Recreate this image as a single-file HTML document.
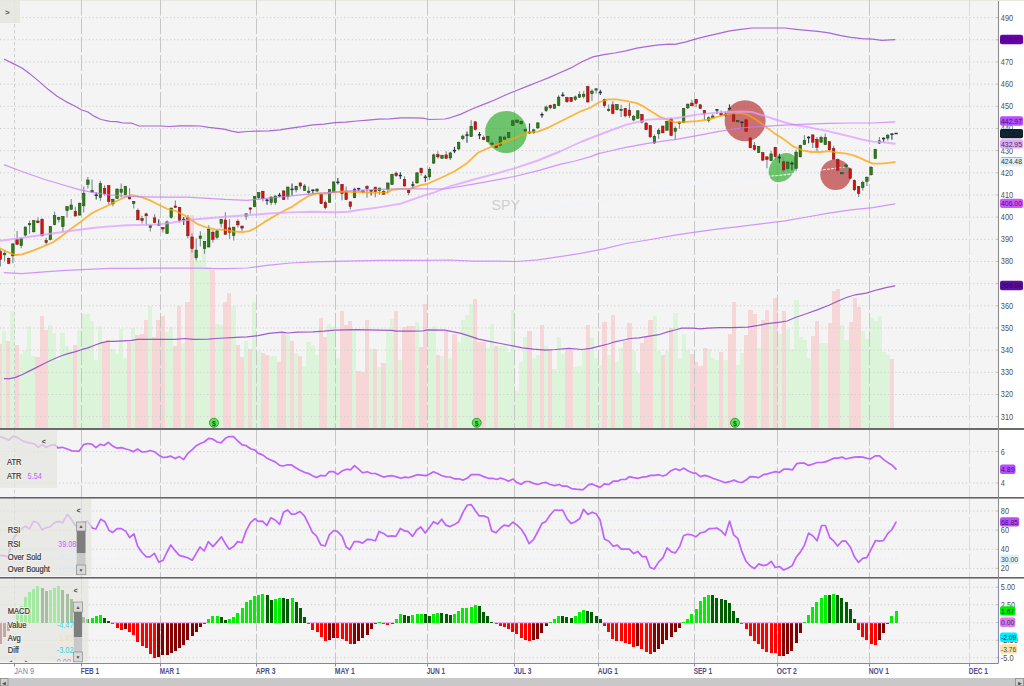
<!DOCTYPE html>
<html><head><meta charset="utf-8"><title>SPY chart</title>
<style>html,body{margin:0;padding:0;background:#fff;width:1024px;height:686px;overflow:hidden}</style>
</head><body>
<svg width="1024" height="686" viewBox="0 0 1024 686" style="display:block">
<rect x="0" y="0" width="1024" height="686" fill="#ffffff"/>
<rect x="0" y="0" width="998" height="428" fill="#f4f4f4"/>
<rect x="0" y="430" width="998" height="67" fill="#f4f4f4"/>
<rect x="0" y="498.6" width="998" height="78.4" fill="#f4f4f4"/>
<rect x="0" y="578.6" width="998" height="84.4" fill="#f4f4f4"/>
<rect x="0" y="0" width="1024" height="1" fill="#e8e8e3"/>
<defs>
<clipPath id="cm"><rect x="0" y="0" width="998" height="428"/></clipPath>
<clipPath id="ca"><rect x="0" y="430" width="998" height="67"/></clipPath>
<clipPath id="cr"><rect x="0" y="499" width="998" height="78"/></clipPath>
<clipPath id="cd"><rect x="0" y="579" width="998" height="84"/></clipPath>
<clipPath id="cml"><rect x="0" y="579.4" width="88.5" height="82.3"/></clipPath>
</defs>
<g shape-rendering="crispEdges">
<rect x="-2.18" y="344" width="4.22" height="84" fill="#f6d6d6"/>
<rect x="1.99" y="331" width="4.22" height="97" fill="#dcf5da"/>
<rect x="6.16" y="341.4" width="4.22" height="86.6" fill="#f6d6d6"/>
<rect x="10.33" y="310.5" width="4.22" height="117.5" fill="#dcf5da"/>
<rect x="14.5" y="344.6" width="4.22" height="83.4" fill="#f6d6d6"/>
<rect x="18.67" y="354.4" width="4.22" height="73.6" fill="#dcf5da"/>
<rect x="22.84" y="350.8" width="4.22" height="77.2" fill="#dcf5da"/>
<rect x="27.01" y="326.4" width="4.22" height="101.6" fill="#dcf5da"/>
<rect x="31.18" y="356" width="4.22" height="72" fill="#dcf5da"/>
<rect x="35.35" y="357" width="4.22" height="71" fill="#f6d6d6"/>
<rect x="39.52" y="316" width="4.22" height="112" fill="#f6d6d6"/>
<rect x="43.69" y="330" width="4.22" height="98" fill="#f6d6d6"/>
<rect x="47.86" y="324.6" width="4.22" height="103.4" fill="#dcf5da"/>
<rect x="52.03" y="333" width="4.22" height="95" fill="#dcf5da"/>
<rect x="56.2" y="360.4" width="4.22" height="67.6" fill="#dcf5da"/>
<rect x="60.37" y="332.5" width="4.22" height="95.5" fill="#dcf5da"/>
<rect x="64.54" y="346.3" width="4.22" height="81.7" fill="#dcf5da"/>
<rect x="68.71" y="351.4" width="4.22" height="76.6" fill="#dcf5da"/>
<rect x="72.88" y="344.6" width="4.22" height="83.4" fill="#f6d6d6"/>
<rect x="77.05" y="330" width="4.22" height="98" fill="#dcf5da"/>
<rect x="81.22" y="313.6" width="4.22" height="114.4" fill="#dcf5da"/>
<rect x="85.39" y="314" width="4.22" height="114" fill="#dcf5da"/>
<rect x="89.56" y="321.4" width="4.22" height="106.6" fill="#dcf5da"/>
<rect x="93.73" y="360.1" width="4.22" height="67.9" fill="#dcf5da"/>
<rect x="97.9" y="326.1" width="4.22" height="101.9" fill="#dcf5da"/>
<rect x="102.07" y="341.5" width="4.22" height="86.5" fill="#f6d6d6"/>
<rect x="106.24" y="340.3" width="4.22" height="87.7" fill="#f6d6d6"/>
<rect x="110.41" y="348.5" width="4.22" height="79.5" fill="#dcf5da"/>
<rect x="114.58" y="354.4" width="4.22" height="73.6" fill="#dcf5da"/>
<rect x="118.75" y="328.6" width="4.22" height="99.4" fill="#dcf5da"/>
<rect x="122.92" y="358.1" width="4.22" height="69.9" fill="#dcf5da"/>
<rect x="127.09" y="342" width="4.22" height="86" fill="#f6d6d6"/>
<rect x="131.26" y="328" width="4.22" height="100" fill="#dcf5da"/>
<rect x="135.43" y="335.1" width="4.22" height="92.9" fill="#f6d6d6"/>
<rect x="139.6" y="333.5" width="4.22" height="94.5" fill="#f6d6d6"/>
<rect x="143.77" y="319.6" width="4.22" height="108.4" fill="#f6d6d6"/>
<rect x="147.94" y="306.2" width="4.22" height="121.8" fill="#dcf5da"/>
<rect x="152.11" y="337" width="4.22" height="91" fill="#f6d6d6"/>
<rect x="156.28" y="319.6" width="4.22" height="108.4" fill="#f6d6d6"/>
<rect x="160.45" y="315.6" width="4.22" height="112.4" fill="#f6d6d6"/>
<rect x="164.62" y="331.9" width="4.22" height="96.1" fill="#dcf5da"/>
<rect x="168.79" y="326.6" width="4.22" height="101.4" fill="#dcf5da"/>
<rect x="172.96" y="345.8" width="4.22" height="82.2" fill="#f6d6d6"/>
<rect x="177.13" y="305.6" width="4.22" height="122.4" fill="#f6d6d6"/>
<rect x="181.3" y="343.2" width="4.22" height="84.8" fill="#dcf5da"/>
<rect x="185.47" y="302" width="4.22" height="126" fill="#f6d6d6"/>
<rect x="189.64" y="214.5" width="4.22" height="213.5" fill="#f6d6d6"/>
<rect x="193.81" y="260" width="4.22" height="168" fill="#dcf5da"/>
<rect x="197.98" y="260" width="4.22" height="168" fill="#dcf5da"/>
<rect x="202.15" y="233" width="4.22" height="195" fill="#dcf5da"/>
<rect x="206.32" y="266.5" width="4.22" height="161.5" fill="#dcf5da"/>
<rect x="210.49" y="269.8" width="4.22" height="158.2" fill="#f6d6d6"/>
<rect x="214.66" y="323.5" width="4.22" height="104.5" fill="#dcf5da"/>
<rect x="218.83" y="324.8" width="4.22" height="103.2" fill="#dcf5da"/>
<rect x="223" y="302" width="4.22" height="126" fill="#f6d6d6"/>
<rect x="227.17" y="293.3" width="4.22" height="134.7" fill="#f6d6d6"/>
<rect x="231.34" y="306.4" width="4.22" height="121.6" fill="#dcf5da"/>
<rect x="235.51" y="344.5" width="4.22" height="83.5" fill="#f6d6d6"/>
<rect x="239.68" y="357.1" width="4.22" height="70.9" fill="#f6d6d6"/>
<rect x="243.85" y="340.6" width="4.22" height="87.4" fill="#dcf5da"/>
<rect x="248.02" y="349.2" width="4.22" height="78.8" fill="#f6d6d6"/>
<rect x="252.19" y="302" width="4.22" height="126" fill="#dcf5da"/>
<rect x="256.36" y="351" width="4.22" height="77" fill="#dcf5da"/>
<rect x="260.53" y="352.9" width="4.22" height="75.1" fill="#f6d6d6"/>
<rect x="264.7" y="354.5" width="4.22" height="73.5" fill="#f6d6d6"/>
<rect x="268.87" y="356.3" width="4.22" height="71.7" fill="#dcf5da"/>
<rect x="273.04" y="356.3" width="4.22" height="71.7" fill="#dcf5da"/>
<rect x="277.21" y="361.5" width="4.22" height="66.5" fill="#f6d6d6"/>
<rect x="281.38" y="332.7" width="4.22" height="95.3" fill="#f6d6d6"/>
<rect x="285.55" y="334.5" width="4.22" height="93.5" fill="#dcf5da"/>
<rect x="289.72" y="340.6" width="4.22" height="87.4" fill="#f6d6d6"/>
<rect x="293.89" y="352.9" width="4.22" height="75.1" fill="#dcf5da"/>
<rect x="298.06" y="356.3" width="4.22" height="71.7" fill="#f6d6d6"/>
<rect x="302.23" y="365.5" width="4.22" height="62.5" fill="#dcf5da"/>
<rect x="306.4" y="342.4" width="4.22" height="85.6" fill="#dcf5da"/>
<rect x="310.57" y="345" width="4.22" height="83" fill="#dcf5da"/>
<rect x="314.74" y="355" width="4.22" height="73" fill="#dcf5da"/>
<rect x="318.91" y="317.7" width="4.22" height="110.3" fill="#f6d6d6"/>
<rect x="323.08" y="336.6" width="4.22" height="91.4" fill="#f6d6d6"/>
<rect x="327.25" y="323.5" width="4.22" height="104.5" fill="#dcf5da"/>
<rect x="331.42" y="327.4" width="4.22" height="100.6" fill="#dcf5da"/>
<rect x="335.59" y="357.6" width="4.22" height="70.4" fill="#dcf5da"/>
<rect x="339.76" y="310.9" width="4.22" height="117.1" fill="#f6d6d6"/>
<rect x="343.93" y="324.8" width="4.22" height="103.2" fill="#f6d6d6"/>
<rect x="348.1" y="320.9" width="4.22" height="107.1" fill="#f6d6d6"/>
<rect x="352.27" y="331.4" width="4.22" height="96.6" fill="#dcf5da"/>
<rect x="356.44" y="371.3" width="4.22" height="56.7" fill="#f6d6d6"/>
<rect x="360.61" y="372" width="4.22" height="56" fill="#f6d6d6"/>
<rect x="364.78" y="319.6" width="4.22" height="108.4" fill="#f6d6d6"/>
<rect x="368.95" y="349.2" width="4.22" height="78.8" fill="#dcf5da"/>
<rect x="373.12" y="349.2" width="4.22" height="78.8" fill="#f6d6d6"/>
<rect x="377.29" y="366.8" width="4.22" height="61.2" fill="#dcf5da"/>
<rect x="381.46" y="362.9" width="4.22" height="65.1" fill="#f6d6d6"/>
<rect x="385.63" y="331.4" width="4.22" height="96.6" fill="#dcf5da"/>
<rect x="389.8" y="318.8" width="4.22" height="109.2" fill="#dcf5da"/>
<rect x="393.97" y="310.9" width="4.22" height="117.1" fill="#f6d6d6"/>
<rect x="398.14" y="359.7" width="4.22" height="68.3" fill="#dcf5da"/>
<rect x="402.31" y="327.4" width="4.22" height="100.6" fill="#f6d6d6"/>
<rect x="406.48" y="326.1" width="4.22" height="101.9" fill="#f6d6d6"/>
<rect x="410.65" y="326.1" width="4.22" height="101.9" fill="#f6d6d6"/>
<rect x="414.82" y="322.2" width="4.22" height="105.8" fill="#dcf5da"/>
<rect x="418.99" y="347.1" width="4.22" height="80.9" fill="#f6d6d6"/>
<rect x="423.16" y="303.8" width="4.22" height="124.2" fill="#f6d6d6"/>
<rect x="427.33" y="328.7" width="4.22" height="99.3" fill="#dcf5da"/>
<rect x="431.5" y="325.6" width="4.22" height="102.4" fill="#dcf5da"/>
<rect x="435.67" y="354.5" width="4.22" height="73.5" fill="#f6d6d6"/>
<rect x="439.84" y="356.3" width="4.22" height="71.7" fill="#dcf5da"/>
<rect x="444.01" y="331.4" width="4.22" height="96.6" fill="#f6d6d6"/>
<rect x="448.18" y="358.1" width="4.22" height="69.9" fill="#dcf5da"/>
<rect x="452.35" y="333.5" width="4.22" height="94.5" fill="#f6d6d6"/>
<rect x="456.52" y="341.9" width="4.22" height="86.1" fill="#dcf5da"/>
<rect x="460.69" y="320.3" width="4.22" height="107.7" fill="#dcf5da"/>
<rect x="464.86" y="314.5" width="4.22" height="113.5" fill="#dcf5da"/>
<rect x="469.03" y="304" width="4.22" height="124" fill="#dcf5da"/>
<rect x="473.2" y="299.4" width="4.22" height="128.6" fill="#f6d6d6"/>
<rect x="477.37" y="341.5" width="4.22" height="86.5" fill="#f6d6d6"/>
<rect x="481.54" y="341.5" width="4.22" height="86.5" fill="#f6d6d6"/>
<rect x="485.71" y="347.9" width="4.22" height="80.1" fill="#dcf5da"/>
<rect x="489.88" y="324.4" width="4.22" height="103.6" fill="#dcf5da"/>
<rect x="494.05" y="345.8" width="4.22" height="82.2" fill="#f6d6d6"/>
<rect x="498.22" y="345.5" width="4.22" height="82.5" fill="#dcf5da"/>
<rect x="502.39" y="345.5" width="4.22" height="82.5" fill="#dcf5da"/>
<rect x="506.56" y="351.7" width="4.22" height="76.3" fill="#dcf5da"/>
<rect x="510.73" y="310" width="4.22" height="118" fill="#dcf5da"/>
<rect x="514.9" y="391" width="4.22" height="37" fill="#dcf5da"/>
<rect x="519.07" y="362.1" width="4.22" height="65.9" fill="#dcf5da"/>
<rect x="523.24" y="337.3" width="4.22" height="90.7" fill="#dcf5da"/>
<rect x="527.41" y="331.3" width="4.22" height="96.7" fill="#f6d6d6"/>
<rect x="531.58" y="358.1" width="4.22" height="69.9" fill="#dcf5da"/>
<rect x="535.75" y="354.9" width="4.22" height="73.1" fill="#dcf5da"/>
<rect x="539.92" y="324.5" width="4.22" height="103.5" fill="#f6d6d6"/>
<rect x="544.09" y="346.1" width="4.22" height="81.9" fill="#dcf5da"/>
<rect x="548.26" y="349.6" width="4.22" height="78.4" fill="#f6d6d6"/>
<rect x="552.43" y="368.5" width="4.22" height="59.5" fill="#dcf5da"/>
<rect x="556.6" y="337.3" width="4.22" height="90.7" fill="#dcf5da"/>
<rect x="560.77" y="353.8" width="4.22" height="74.2" fill="#dcf5da"/>
<rect x="564.94" y="350.1" width="4.22" height="77.9" fill="#f6d6d6"/>
<rect x="569.11" y="350.1" width="4.22" height="77.9" fill="#f6d6d6"/>
<rect x="573.28" y="366.9" width="4.22" height="61.1" fill="#dcf5da"/>
<rect x="577.45" y="365.6" width="4.22" height="62.4" fill="#dcf5da"/>
<rect x="581.62" y="350.1" width="4.22" height="77.9" fill="#dcf5da"/>
<rect x="585.79" y="324.5" width="4.22" height="103.5" fill="#f6d6d6"/>
<rect x="589.96" y="337.8" width="4.22" height="90.2" fill="#dcf5da"/>
<rect x="594.13" y="358.1" width="4.22" height="69.9" fill="#dcf5da"/>
<rect x="598.3" y="365.3" width="4.22" height="62.7" fill="#dcf5da"/>
<rect x="602.47" y="322" width="4.22" height="106" fill="#f6d6d6"/>
<rect x="606.64" y="355.4" width="4.22" height="72.6" fill="#dcf5da"/>
<rect x="610.81" y="315" width="4.22" height="113" fill="#f6d6d6"/>
<rect x="614.98" y="362.1" width="4.22" height="65.9" fill="#dcf5da"/>
<rect x="619.15" y="348" width="4.22" height="80" fill="#dcf5da"/>
<rect x="623.32" y="340.5" width="4.22" height="87.5" fill="#f6d6d6"/>
<rect x="627.49" y="322.9" width="4.22" height="105.1" fill="#f6d6d6"/>
<rect x="631.66" y="350.6" width="4.22" height="77.4" fill="#dcf5da"/>
<rect x="635.83" y="373.3" width="4.22" height="54.7" fill="#dcf5da"/>
<rect x="640" y="342.9" width="4.22" height="85.1" fill="#f6d6d6"/>
<rect x="644.17" y="337.3" width="4.22" height="90.7" fill="#f6d6d6"/>
<rect x="648.34" y="319.6" width="4.22" height="108.4" fill="#f6d6d6"/>
<rect x="652.51" y="316.4" width="4.22" height="111.6" fill="#dcf5da"/>
<rect x="656.68" y="350.6" width="4.22" height="77.4" fill="#dcf5da"/>
<rect x="660.85" y="354.9" width="4.22" height="73.1" fill="#f6d6d6"/>
<rect x="665.02" y="350.6" width="4.22" height="77.4" fill="#dcf5da"/>
<rect x="669.19" y="328.1" width="4.22" height="99.9" fill="#f6d6d6"/>
<rect x="673.36" y="313.1" width="4.22" height="114.9" fill="#dcf5da"/>
<rect x="677.53" y="358.4" width="4.22" height="69.6" fill="#dcf5da"/>
<rect x="681.7" y="334.4" width="4.22" height="93.6" fill="#dcf5da"/>
<rect x="685.87" y="349.9" width="4.22" height="78.1" fill="#dcf5da"/>
<rect x="690.04" y="353.9" width="4.22" height="74.1" fill="#f6d6d6"/>
<rect x="694.21" y="361.6" width="4.22" height="66.4" fill="#f6d6d6"/>
<rect x="698.38" y="365.9" width="4.22" height="62.1" fill="#f6d6d6"/>
<rect x="702.55" y="348.3" width="4.22" height="79.7" fill="#f6d6d6"/>
<rect x="706.72" y="349.1" width="4.22" height="78.9" fill="#dcf5da"/>
<rect x="710.89" y="357.9" width="4.22" height="70.1" fill="#dcf5da"/>
<rect x="715.06" y="360" width="4.22" height="68" fill="#dcf5da"/>
<rect x="719.23" y="352" width="4.22" height="76" fill="#f6d6d6"/>
<rect x="723.4" y="360.3" width="4.22" height="67.7" fill="#dcf5da"/>
<rect x="727.57" y="334.2" width="4.22" height="93.8" fill="#f6d6d6"/>
<rect x="731.74" y="301.8" width="4.22" height="126.2" fill="#f6d6d6"/>
<rect x="735.91" y="365.1" width="4.22" height="62.9" fill="#dcf5da"/>
<rect x="740.08" y="353.1" width="4.22" height="74.9" fill="#dcf5da"/>
<rect x="744.25" y="335" width="4.22" height="93" fill="#f6d6d6"/>
<rect x="748.42" y="310.3" width="4.22" height="117.7" fill="#f6d6d6"/>
<rect x="752.59" y="314.2" width="4.22" height="113.8" fill="#f6d6d6"/>
<rect x="756.76" y="348.3" width="4.22" height="79.7" fill="#dcf5da"/>
<rect x="760.93" y="319.5" width="4.22" height="108.5" fill="#f6d6d6"/>
<rect x="765.1" y="309.8" width="4.22" height="118.2" fill="#f6d6d6"/>
<rect x="769.27" y="324.3" width="4.22" height="103.7" fill="#dcf5da"/>
<rect x="773.44" y="298.1" width="4.22" height="129.9" fill="#f6d6d6"/>
<rect x="777.61" y="333.9" width="4.22" height="94.1" fill="#dcf5da"/>
<rect x="781.78" y="311" width="4.22" height="117" fill="#f6d6d6"/>
<rect x="785.95" y="329.1" width="4.22" height="98.9" fill="#dcf5da"/>
<rect x="790.12" y="349.1" width="4.22" height="78.9" fill="#dcf5da"/>
<rect x="794.29" y="300" width="4.22" height="128" fill="#dcf5da"/>
<rect x="798.46" y="336.9" width="4.22" height="91.1" fill="#dcf5da"/>
<rect x="802.63" y="339.6" width="4.22" height="88.4" fill="#dcf5da"/>
<rect x="806.8" y="357.7" width="4.22" height="70.3" fill="#dcf5da"/>
<rect x="810.97" y="336.4" width="4.22" height="91.6" fill="#f6d6d6"/>
<rect x="815.14" y="320.9" width="4.22" height="107.1" fill="#f6d6d6"/>
<rect x="819.31" y="343.3" width="4.22" height="84.7" fill="#dcf5da"/>
<rect x="823.48" y="343.3" width="4.22" height="84.7" fill="#dcf5da"/>
<rect x="827.65" y="322.9" width="4.22" height="105.1" fill="#f6d6d6"/>
<rect x="831.82" y="290.9" width="4.22" height="137.1" fill="#f6d6d6"/>
<rect x="835.99" y="288.8" width="4.22" height="139.2" fill="#f6d6d6"/>
<rect x="840.16" y="324.6" width="4.22" height="103.4" fill="#dcf5da"/>
<rect x="844.33" y="339.6" width="4.22" height="88.4" fill="#dcf5da"/>
<rect x="848.5" y="322" width="4.22" height="106" fill="#f6d6d6"/>
<rect x="852.67" y="298.4" width="4.22" height="129.6" fill="#f6d6d6"/>
<rect x="856.84" y="306.9" width="4.22" height="121.1" fill="#f6d6d6"/>
<rect x="861.01" y="331" width="4.22" height="97" fill="#dcf5da"/>
<rect x="865.18" y="338.5" width="4.22" height="89.5" fill="#dcf5da"/>
<rect x="869.35" y="317.7" width="4.22" height="110.3" fill="#dcf5da"/>
<rect x="873.52" y="320.9" width="4.22" height="107.1" fill="#dcf5da"/>
<rect x="877.69" y="315.6" width="4.22" height="112.4" fill="#dcf5da"/>
<rect x="881.86" y="351.8" width="4.22" height="76.2" fill="#dcf5da"/>
<rect x="886.03" y="355.3" width="4.22" height="72.7" fill="#dcf5da"/>
<rect x="890.2" y="358.5" width="4.22" height="69.5" fill="#f6d6d6"/>
</g>
<line x1="0" y1="17.6" x2="998" y2="17.6" stroke="#d0d0d0" stroke-width="1" stroke-dasharray="1.3 2.4"/>
<line x1="0" y1="39.77" x2="998" y2="39.77" stroke="#d0d0d0" stroke-width="1" stroke-dasharray="1.3 2.4"/>
<line x1="0" y1="61.94" x2="998" y2="61.94" stroke="#d0d0d0" stroke-width="1" stroke-dasharray="1.3 2.4"/>
<line x1="0" y1="84.11" x2="998" y2="84.11" stroke="#d0d0d0" stroke-width="1" stroke-dasharray="1.3 2.4"/>
<line x1="0" y1="106.28" x2="998" y2="106.28" stroke="#d0d0d0" stroke-width="1" stroke-dasharray="1.3 2.4"/>
<line x1="0" y1="128.45" x2="998" y2="128.45" stroke="#d0d0d0" stroke-width="1" stroke-dasharray="1.3 2.4"/>
<line x1="0" y1="150.62" x2="998" y2="150.62" stroke="#d0d0d0" stroke-width="1" stroke-dasharray="1.3 2.4"/>
<line x1="0" y1="172.79" x2="998" y2="172.79" stroke="#d0d0d0" stroke-width="1" stroke-dasharray="1.3 2.4"/>
<line x1="0" y1="194.96" x2="998" y2="194.96" stroke="#d0d0d0" stroke-width="1" stroke-dasharray="1.3 2.4"/>
<line x1="0" y1="217.13" x2="998" y2="217.13" stroke="#d0d0d0" stroke-width="1" stroke-dasharray="1.3 2.4"/>
<line x1="0" y1="239.3" x2="998" y2="239.3" stroke="#d0d0d0" stroke-width="1" stroke-dasharray="1.3 2.4"/>
<line x1="0" y1="261.47" x2="998" y2="261.47" stroke="#d0d0d0" stroke-width="1" stroke-dasharray="1.3 2.4"/>
<line x1="0" y1="283.64" x2="998" y2="283.64" stroke="#d0d0d0" stroke-width="1" stroke-dasharray="1.3 2.4"/>
<line x1="0" y1="305.81" x2="998" y2="305.81" stroke="#d0d0d0" stroke-width="1" stroke-dasharray="1.3 2.4"/>
<line x1="0" y1="327.98" x2="998" y2="327.98" stroke="#d0d0d0" stroke-width="1" stroke-dasharray="1.3 2.4"/>
<line x1="0" y1="350.15" x2="998" y2="350.15" stroke="#d0d0d0" stroke-width="1" stroke-dasharray="1.3 2.4"/>
<line x1="0" y1="372.32" x2="998" y2="372.32" stroke="#d0d0d0" stroke-width="1" stroke-dasharray="1.3 2.4"/>
<line x1="0" y1="394.49" x2="998" y2="394.49" stroke="#d0d0d0" stroke-width="1" stroke-dasharray="1.3 2.4"/>
<line x1="0" y1="416.66" x2="998" y2="416.66" stroke="#d0d0d0" stroke-width="1" stroke-dasharray="1.3 2.4"/>
<line x1="0" y1="451.6" x2="998" y2="451.6" stroke="#d0d0d0" stroke-width="1" stroke-dasharray="1.3 2.4"/>
<line x1="0" y1="483" x2="998" y2="483" stroke="#d0d0d0" stroke-width="1" stroke-dasharray="1.3 2.4"/>
<line x1="0" y1="511" x2="998" y2="511" stroke="#d0d0d0" stroke-width="1" stroke-dasharray="1.3 2.4"/>
<line x1="0" y1="530.1" x2="998" y2="530.1" stroke="#d0d0d0" stroke-width="1" stroke-dasharray="1.3 2.4"/>
<line x1="0" y1="549.3" x2="998" y2="549.3" stroke="#d0d0d0" stroke-width="1" stroke-dasharray="1.3 2.4"/>
<line x1="0" y1="568.4" x2="998" y2="568.4" stroke="#d0d0d0" stroke-width="1" stroke-dasharray="1.3 2.4"/>
<line x1="0" y1="520.6" x2="897" y2="520.6" stroke="#dfeaf5" stroke-width="1" stroke-dasharray="1.3 2.4"/>
<line x1="0" y1="558.9" x2="897" y2="558.9" stroke="#dfeaf5" stroke-width="1" stroke-dasharray="1.3 2.4"/>
<line x1="0" y1="587.2" x2="998" y2="587.2" stroke="#d0d0d0" stroke-width="1" stroke-dasharray="1.3 2.4"/>
<line x1="0" y1="604.7" x2="998" y2="604.7" stroke="#d0d0d0" stroke-width="1" stroke-dasharray="1.3 2.4"/>
<line x1="0" y1="622.8" x2="998" y2="622.8" stroke="#d0d0d0" stroke-width="1" stroke-dasharray="1.3 2.4"/>
<line x1="0" y1="640.3" x2="998" y2="640.3" stroke="#d0d0d0" stroke-width="1" stroke-dasharray="1.3 2.4"/>
<line x1="0" y1="657.7" x2="998" y2="657.7" stroke="#d0d0d0" stroke-width="1" stroke-dasharray="1.3 2.4"/>
<line x1="14.5" y1="0" x2="14.5" y2="428" stroke="#cfcfcf" stroke-width="1" stroke-dasharray="3.5 2.5"/>
<line x1="81.5" y1="0" x2="81.5" y2="428" stroke="#c6c6c6" stroke-width="1" stroke-dasharray="15.7 2.7"/>
<line x1="160.5" y1="0" x2="160.5" y2="428" stroke="#c6c6c6" stroke-width="1" stroke-dasharray="15.7 2.7"/>
<line x1="256.5" y1="0" x2="256.5" y2="428" stroke="#c6c6c6" stroke-width="1" stroke-dasharray="15.7 2.7"/>
<line x1="335.5" y1="0" x2="335.5" y2="428" stroke="#c6c6c6" stroke-width="1" stroke-dasharray="15.7 2.7"/>
<line x1="427.5" y1="0" x2="427.5" y2="428" stroke="#c6c6c6" stroke-width="1" stroke-dasharray="15.7 2.7"/>
<line x1="514.5" y1="0" x2="514.5" y2="428" stroke="#c6c6c6" stroke-width="1" stroke-dasharray="15.7 2.7"/>
<line x1="598.5" y1="0" x2="598.5" y2="428" stroke="#c6c6c6" stroke-width="1" stroke-dasharray="15.7 2.7"/>
<line x1="694.5" y1="0" x2="694.5" y2="428" stroke="#c6c6c6" stroke-width="1" stroke-dasharray="15.7 2.7"/>
<line x1="777.5" y1="0" x2="777.5" y2="428" stroke="#c6c6c6" stroke-width="1" stroke-dasharray="15.7 2.7"/>
<line x1="869.5" y1="0" x2="869.5" y2="428" stroke="#c6c6c6" stroke-width="1" stroke-dasharray="15.7 2.7"/>
<line x1="969.5" y1="0" x2="969.5" y2="428" stroke="#dadada" stroke-width="1" stroke-dasharray="15.7 2.7"/>
<line x1="14.5" y1="430" x2="14.5" y2="497" stroke="#cfcfcf" stroke-width="1" stroke-dasharray="3.5 2.5"/>
<line x1="81.5" y1="430" x2="81.5" y2="497" stroke="#c6c6c6" stroke-width="1" stroke-dasharray="15.7 2.7"/>
<line x1="160.5" y1="430" x2="160.5" y2="497" stroke="#c6c6c6" stroke-width="1" stroke-dasharray="15.7 2.7"/>
<line x1="256.5" y1="430" x2="256.5" y2="497" stroke="#c6c6c6" stroke-width="1" stroke-dasharray="15.7 2.7"/>
<line x1="335.5" y1="430" x2="335.5" y2="497" stroke="#c6c6c6" stroke-width="1" stroke-dasharray="15.7 2.7"/>
<line x1="427.5" y1="430" x2="427.5" y2="497" stroke="#c6c6c6" stroke-width="1" stroke-dasharray="15.7 2.7"/>
<line x1="514.5" y1="430" x2="514.5" y2="497" stroke="#c6c6c6" stroke-width="1" stroke-dasharray="15.7 2.7"/>
<line x1="598.5" y1="430" x2="598.5" y2="497" stroke="#c6c6c6" stroke-width="1" stroke-dasharray="15.7 2.7"/>
<line x1="694.5" y1="430" x2="694.5" y2="497" stroke="#c6c6c6" stroke-width="1" stroke-dasharray="15.7 2.7"/>
<line x1="777.5" y1="430" x2="777.5" y2="497" stroke="#c6c6c6" stroke-width="1" stroke-dasharray="15.7 2.7"/>
<line x1="869.5" y1="430" x2="869.5" y2="497" stroke="#c6c6c6" stroke-width="1" stroke-dasharray="15.7 2.7"/>
<line x1="969.5" y1="430" x2="969.5" y2="497" stroke="#dadada" stroke-width="1" stroke-dasharray="15.7 2.7"/>
<line x1="14.5" y1="498.6" x2="14.5" y2="577" stroke="#cfcfcf" stroke-width="1" stroke-dasharray="3.5 2.5"/>
<line x1="81.5" y1="498.6" x2="81.5" y2="577" stroke="#c6c6c6" stroke-width="1" stroke-dasharray="15.7 2.7"/>
<line x1="160.5" y1="498.6" x2="160.5" y2="577" stroke="#c6c6c6" stroke-width="1" stroke-dasharray="15.7 2.7"/>
<line x1="256.5" y1="498.6" x2="256.5" y2="577" stroke="#c6c6c6" stroke-width="1" stroke-dasharray="15.7 2.7"/>
<line x1="335.5" y1="498.6" x2="335.5" y2="577" stroke="#c6c6c6" stroke-width="1" stroke-dasharray="15.7 2.7"/>
<line x1="427.5" y1="498.6" x2="427.5" y2="577" stroke="#c6c6c6" stroke-width="1" stroke-dasharray="15.7 2.7"/>
<line x1="514.5" y1="498.6" x2="514.5" y2="577" stroke="#c6c6c6" stroke-width="1" stroke-dasharray="15.7 2.7"/>
<line x1="598.5" y1="498.6" x2="598.5" y2="577" stroke="#c6c6c6" stroke-width="1" stroke-dasharray="15.7 2.7"/>
<line x1="694.5" y1="498.6" x2="694.5" y2="577" stroke="#c6c6c6" stroke-width="1" stroke-dasharray="15.7 2.7"/>
<line x1="777.5" y1="498.6" x2="777.5" y2="577" stroke="#c6c6c6" stroke-width="1" stroke-dasharray="15.7 2.7"/>
<line x1="869.5" y1="498.6" x2="869.5" y2="577" stroke="#c6c6c6" stroke-width="1" stroke-dasharray="15.7 2.7"/>
<line x1="969.5" y1="498.6" x2="969.5" y2="577" stroke="#dadada" stroke-width="1" stroke-dasharray="15.7 2.7"/>
<line x1="14.5" y1="578.6" x2="14.5" y2="663" stroke="#cfcfcf" stroke-width="1" stroke-dasharray="3.5 2.5"/>
<line x1="81.5" y1="578.6" x2="81.5" y2="663" stroke="#c6c6c6" stroke-width="1" stroke-dasharray="15.7 2.7"/>
<line x1="160.5" y1="578.6" x2="160.5" y2="663" stroke="#c6c6c6" stroke-width="1" stroke-dasharray="15.7 2.7"/>
<line x1="256.5" y1="578.6" x2="256.5" y2="663" stroke="#c6c6c6" stroke-width="1" stroke-dasharray="15.7 2.7"/>
<line x1="335.5" y1="578.6" x2="335.5" y2="663" stroke="#c6c6c6" stroke-width="1" stroke-dasharray="15.7 2.7"/>
<line x1="427.5" y1="578.6" x2="427.5" y2="663" stroke="#c6c6c6" stroke-width="1" stroke-dasharray="15.7 2.7"/>
<line x1="514.5" y1="578.6" x2="514.5" y2="663" stroke="#c6c6c6" stroke-width="1" stroke-dasharray="15.7 2.7"/>
<line x1="598.5" y1="578.6" x2="598.5" y2="663" stroke="#c6c6c6" stroke-width="1" stroke-dasharray="15.7 2.7"/>
<line x1="694.5" y1="578.6" x2="694.5" y2="663" stroke="#c6c6c6" stroke-width="1" stroke-dasharray="15.7 2.7"/>
<line x1="777.5" y1="578.6" x2="777.5" y2="663" stroke="#c6c6c6" stroke-width="1" stroke-dasharray="15.7 2.7"/>
<line x1="869.5" y1="578.6" x2="869.5" y2="663" stroke="#c6c6c6" stroke-width="1" stroke-dasharray="15.7 2.7"/>
<line x1="969.5" y1="578.6" x2="969.5" y2="663" stroke="#dadada" stroke-width="1" stroke-dasharray="15.7 2.7"/>
<g clip-path="url(#cm)">
<circle cx="506.1" cy="132" r="21" fill="rgba(40,172,40,0.66)"/>
<ellipse cx="782.5" cy="167.6" rx="16.3" ry="11.9" transform="rotate(-50 782.5 167.6)" fill="rgba(40,172,40,0.66)"/>
<circle cx="745.1" cy="120.8" r="20.5" fill="rgba(178,30,30,0.62)"/>
<circle cx="835.7" cy="174.6" r="15.4" fill="rgba(178,30,30,0.62)"/>
<polyline points="240,234 450,225.3 605,200 675,187 730,179.5 782,175.1 834,168.5 860,165.2" fill="none" stroke="#eaf3fc" stroke-width="1.1" stroke-linejoin="round" stroke-linecap="round" stroke-dasharray="2 2"/>
<text x="491.5" y="209.9" font-family="Liberation Sans, Arial, sans-serif" font-size="15" fill="#cfcfcf" textLength="28.5" lengthAdjust="spacingAndGlyphs">SPY</text>
<line x1="0.4" y1="249.5" x2="0.4" y2="266.6" stroke="#7f8f9d" stroke-width="1.15"/>
<line x1="4.56" y1="250.2" x2="4.56" y2="261.4" stroke="#7f8f9d" stroke-width="1.15"/>
<line x1="8.73" y1="257.5" x2="8.73" y2="264" stroke="#7f8f9d" stroke-width="1.15"/>
<line x1="12.89" y1="243" x2="12.89" y2="263.3" stroke="#7f8f9d" stroke-width="1.15"/>
<line x1="17.06" y1="230.9" x2="17.06" y2="244.5" stroke="#7f8f9d" stroke-width="1.15"/>
<line x1="21.23" y1="238" x2="21.23" y2="248.2" stroke="#7f8f9d" stroke-width="1.15"/>
<line x1="25.39" y1="226.6" x2="25.39" y2="236.4" stroke="#7f8f9d" stroke-width="1.15"/>
<line x1="29.56" y1="220.7" x2="29.56" y2="233.8" stroke="#7f8f9d" stroke-width="1.15"/>
<line x1="33.72" y1="220" x2="33.72" y2="232.5" stroke="#7f8f9d" stroke-width="1.15"/>
<line x1="37.89" y1="217.4" x2="37.89" y2="223.3" stroke="#7f8f9d" stroke-width="1.15"/>
<line x1="42.06" y1="218" x2="42.06" y2="236.4" stroke="#7f8f9d" stroke-width="1.15"/>
<line x1="46.22" y1="237.7" x2="46.22" y2="245" stroke="#7f8f9d" stroke-width="1.15"/>
<line x1="50.39" y1="226" x2="50.39" y2="240.4" stroke="#7f8f9d" stroke-width="1.15"/>
<line x1="54.55" y1="211.5" x2="54.55" y2="225.3" stroke="#7f8f9d" stroke-width="1.15"/>
<line x1="58.72" y1="216.7" x2="58.72" y2="222.6" stroke="#7f8f9d" stroke-width="1.15"/>
<line x1="62.89" y1="216.3" x2="62.89" y2="231.8" stroke="#7f8f9d" stroke-width="1.15"/>
<line x1="67.05" y1="206.3" x2="67.05" y2="217.5" stroke="#7f8f9d" stroke-width="1.15"/>
<line x1="71.22" y1="199.1" x2="71.22" y2="209.8" stroke="#7f8f9d" stroke-width="1.15"/>
<line x1="75.38" y1="206.8" x2="75.38" y2="216.5" stroke="#7f8f9d" stroke-width="1.15"/>
<line x1="79.55" y1="202.7" x2="79.55" y2="215.5" stroke="#7f8f9d" stroke-width="1.15"/>
<line x1="83.72" y1="186.4" x2="83.72" y2="212.4" stroke="#7f8f9d" stroke-width="1.15"/>
<line x1="87.88" y1="177" x2="87.88" y2="188.4" stroke="#7f8f9d" stroke-width="1.15"/>
<line x1="92.05" y1="179.5" x2="92.05" y2="192.3" stroke="#7f8f9d" stroke-width="1.15"/>
<line x1="96.21" y1="192.5" x2="96.21" y2="199.6" stroke="#34495a" stroke-width="1.15"/>
<line x1="100.38" y1="180.8" x2="100.38" y2="200.7" stroke="#7f8f9d" stroke-width="1.15"/>
<line x1="104.55" y1="185.3" x2="104.55" y2="195.5" stroke="#7f8f9d" stroke-width="1.15"/>
<line x1="108.71" y1="185.4" x2="108.71" y2="204.2" stroke="#7f8f9d" stroke-width="1.15"/>
<line x1="112.88" y1="198.6" x2="112.88" y2="206.3" stroke="#7f8f9d" stroke-width="1.15"/>
<line x1="117.04" y1="188.7" x2="117.04" y2="198.9" stroke="#7f8f9d" stroke-width="1.15"/>
<line x1="121.21" y1="183.6" x2="121.21" y2="197.4" stroke="#7f8f9d" stroke-width="1.15"/>
<line x1="125.38" y1="186" x2="125.38" y2="195.3" stroke="#7f8f9d" stroke-width="1.15"/>
<line x1="129.54" y1="188.2" x2="129.54" y2="199.4" stroke="#7f8f9d" stroke-width="1.15"/>
<line x1="133.71" y1="201.3" x2="133.71" y2="208.6" stroke="#7f8f9d" stroke-width="1.15"/>
<line x1="137.87" y1="208.6" x2="137.87" y2="220" stroke="#7f8f9d" stroke-width="1.15"/>
<line x1="142.04" y1="215.8" x2="142.04" y2="223.4" stroke="#7f8f9d" stroke-width="1.15"/>
<line x1="146.21" y1="212.7" x2="146.21" y2="225.4" stroke="#7f8f9d" stroke-width="1.15"/>
<line x1="150.37" y1="224.9" x2="150.37" y2="231.6" stroke="#7f8f9d" stroke-width="1.15"/>
<line x1="154.54" y1="214.2" x2="154.54" y2="223.4" stroke="#7f8f9d" stroke-width="1.15"/>
<line x1="158.7" y1="219.3" x2="158.7" y2="226" stroke="#34495a" stroke-width="1.15"/>
<line x1="162.87" y1="227" x2="162.87" y2="232.6" stroke="#7f8f9d" stroke-width="1.15"/>
<line x1="167.04" y1="220.4" x2="167.04" y2="233.9" stroke="#7f8f9d" stroke-width="1.15"/>
<line x1="171.2" y1="207.6" x2="171.2" y2="218.8" stroke="#7f8f9d" stroke-width="1.15"/>
<line x1="175.37" y1="200.6" x2="175.37" y2="207.8" stroke="#7f8f9d" stroke-width="1.15"/>
<line x1="179.53" y1="207" x2="179.53" y2="222.6" stroke="#7f8f9d" stroke-width="1.15"/>
<line x1="183.7" y1="217" x2="183.7" y2="225.1" stroke="#34495a" stroke-width="1.15"/>
<line x1="187.87" y1="214.9" x2="187.87" y2="238.4" stroke="#7f8f9d" stroke-width="1.15"/>
<line x1="192.03" y1="233.3" x2="192.03" y2="252.6" stroke="#7f8f9d" stroke-width="1.15"/>
<line x1="196.2" y1="238.4" x2="196.2" y2="260.3" stroke="#7f8f9d" stroke-width="1.15"/>
<line x1="200.36" y1="231.2" x2="200.36" y2="246.5" stroke="#7f8f9d" stroke-width="1.15"/>
<line x1="204.53" y1="241" x2="204.53" y2="253.7" stroke="#7f8f9d" stroke-width="1.15"/>
<line x1="208.7" y1="225.2" x2="208.7" y2="247.2" stroke="#7f8f9d" stroke-width="1.15"/>
<line x1="212.86" y1="230.2" x2="212.86" y2="242.4" stroke="#7f8f9d" stroke-width="1.15"/>
<line x1="217.03" y1="230.2" x2="217.03" y2="239.4" stroke="#7f8f9d" stroke-width="1.15"/>
<line x1="221.19" y1="219" x2="221.19" y2="227.6" stroke="#7f8f9d" stroke-width="1.15"/>
<line x1="225.36" y1="212.3" x2="225.36" y2="234.8" stroke="#7f8f9d" stroke-width="1.15"/>
<line x1="229.53" y1="218.9" x2="229.53" y2="238.8" stroke="#7f8f9d" stroke-width="1.15"/>
<line x1="233.69" y1="227.1" x2="233.69" y2="240.4" stroke="#7f8f9d" stroke-width="1.15"/>
<line x1="237.86" y1="219.4" x2="237.86" y2="227.6" stroke="#7f8f9d" stroke-width="1.15"/>
<line x1="242.02" y1="225.6" x2="242.02" y2="231.2" stroke="#7f8f9d" stroke-width="1.15"/>
<line x1="246.19" y1="213.8" x2="246.19" y2="220" stroke="#7f8f9d" stroke-width="1.15"/>
<line x1="250.36" y1="207.7" x2="250.36" y2="213.8" stroke="#7f8f9d" stroke-width="1.15"/>
<line x1="254.52" y1="196" x2="254.52" y2="207.2" stroke="#7f8f9d" stroke-width="1.15"/>
<line x1="258.69" y1="192.4" x2="258.69" y2="199.3" stroke="#7f8f9d" stroke-width="1.15"/>
<line x1="262.85" y1="190.9" x2="262.85" y2="201.6" stroke="#7f8f9d" stroke-width="1.15"/>
<line x1="267.02" y1="199" x2="267.02" y2="204.7" stroke="#34495a" stroke-width="1.15"/>
<line x1="271.19" y1="196.5" x2="271.19" y2="205.2" stroke="#7f8f9d" stroke-width="1.15"/>
<line x1="275.35" y1="195.5" x2="275.35" y2="204.7" stroke="#7f8f9d" stroke-width="1.15"/>
<line x1="279.52" y1="192.9" x2="279.52" y2="197" stroke="#34495a" stroke-width="1.15"/>
<line x1="283.68" y1="190.5" x2="283.68" y2="200" stroke="#7f8f9d" stroke-width="1.15"/>
<line x1="287.85" y1="187" x2="287.85" y2="199.8" stroke="#7f8f9d" stroke-width="1.15"/>
<line x1="292.02" y1="183.4" x2="292.02" y2="195.2" stroke="#34495a" stroke-width="1.15"/>
<line x1="296.18" y1="185.8" x2="296.18" y2="192.6" stroke="#7f8f9d" stroke-width="1.15"/>
<line x1="300.35" y1="182.4" x2="300.35" y2="189.3" stroke="#7f8f9d" stroke-width="1.15"/>
<line x1="304.51" y1="184" x2="304.51" y2="190.6" stroke="#7f8f9d" stroke-width="1.15"/>
<line x1="308.68" y1="186.5" x2="308.68" y2="194.4" stroke="#7f8f9d" stroke-width="1.15"/>
<line x1="312.85" y1="189.4" x2="312.85" y2="193.6" stroke="#34495a" stroke-width="1.15"/>
<line x1="317.01" y1="188.5" x2="317.01" y2="191.6" stroke="#7f8f9d" stroke-width="1.15"/>
<line x1="321.18" y1="194.1" x2="321.18" y2="203.8" stroke="#7f8f9d" stroke-width="1.15"/>
<line x1="325.34" y1="200.6" x2="325.34" y2="209.4" stroke="#7f8f9d" stroke-width="1.15"/>
<line x1="329.51" y1="189.4" x2="329.51" y2="202.6" stroke="#7f8f9d" stroke-width="1.15"/>
<line x1="333.68" y1="181.4" x2="333.68" y2="192.6" stroke="#7f8f9d" stroke-width="1.15"/>
<line x1="337.84" y1="178.1" x2="337.84" y2="184.6" stroke="#34495a" stroke-width="1.15"/>
<line x1="342.01" y1="184.3" x2="342.01" y2="200.3" stroke="#7f8f9d" stroke-width="1.15"/>
<line x1="346.17" y1="186.6" x2="346.17" y2="199.8" stroke="#7f8f9d" stroke-width="1.15"/>
<line x1="350.34" y1="201.4" x2="350.34" y2="209.5" stroke="#7f8f9d" stroke-width="1.15"/>
<line x1="354.51" y1="187.6" x2="354.51" y2="198" stroke="#7f8f9d" stroke-width="1.15"/>
<line x1="358.67" y1="188.1" x2="358.67" y2="191.2" stroke="#34495a" stroke-width="1.15"/>
<line x1="362.84" y1="190.5" x2="362.84" y2="193.3" stroke="#34495a" stroke-width="1.15"/>
<line x1="367" y1="185" x2="367" y2="197.8" stroke="#7f8f9d" stroke-width="1.15"/>
<line x1="371.17" y1="190.1" x2="371.17" y2="195.6" stroke="#34495a" stroke-width="1.15"/>
<line x1="375.34" y1="187" x2="375.34" y2="197.3" stroke="#7f8f9d" stroke-width="1.15"/>
<line x1="379.5" y1="187.6" x2="379.5" y2="194.7" stroke="#7f8f9d" stroke-width="1.15"/>
<line x1="383.67" y1="190.2" x2="383.67" y2="194.7" stroke="#7f8f9d" stroke-width="1.15"/>
<line x1="387.83" y1="182.5" x2="387.83" y2="193.2" stroke="#7f8f9d" stroke-width="1.15"/>
<line x1="392" y1="173.8" x2="392" y2="184.7" stroke="#7f8f9d" stroke-width="1.15"/>
<line x1="396.17" y1="171.5" x2="396.17" y2="177" stroke="#7f8f9d" stroke-width="1.15"/>
<line x1="400.33" y1="172.2" x2="400.33" y2="178.9" stroke="#34495a" stroke-width="1.15"/>
<line x1="404.5" y1="176.3" x2="404.5" y2="186.5" stroke="#7f8f9d" stroke-width="1.15"/>
<line x1="408.66" y1="189.6" x2="408.66" y2="195.2" stroke="#7f8f9d" stroke-width="1.15"/>
<line x1="412.83" y1="181.5" x2="412.83" y2="188.8" stroke="#34495a" stroke-width="1.15"/>
<line x1="417" y1="172.3" x2="417" y2="183.5" stroke="#7f8f9d" stroke-width="1.15"/>
<line x1="421.16" y1="167.7" x2="421.16" y2="175.8" stroke="#7f8f9d" stroke-width="1.15"/>
<line x1="425.33" y1="174.8" x2="425.33" y2="181.9" stroke="#34495a" stroke-width="1.15"/>
<line x1="429.49" y1="167.1" x2="429.49" y2="179.9" stroke="#7f8f9d" stroke-width="1.15"/>
<line x1="433.66" y1="153.4" x2="433.66" y2="164.1" stroke="#7f8f9d" stroke-width="1.15"/>
<line x1="437.83" y1="151.3" x2="437.83" y2="158.5" stroke="#7f8f9d" stroke-width="1.15"/>
<line x1="441.99" y1="154.9" x2="441.99" y2="159" stroke="#7f8f9d" stroke-width="1.15"/>
<line x1="446.16" y1="151.3" x2="446.16" y2="159" stroke="#7f8f9d" stroke-width="1.15"/>
<line x1="450.32" y1="151.8" x2="450.32" y2="160" stroke="#7f8f9d" stroke-width="1.15"/>
<line x1="454.49" y1="146.8" x2="454.49" y2="153.2" stroke="#34495a" stroke-width="1.15"/>
<line x1="458.66" y1="141.7" x2="458.66" y2="150.4" stroke="#7f8f9d" stroke-width="1.15"/>
<line x1="462.82" y1="134.6" x2="462.82" y2="140.2" stroke="#7f8f9d" stroke-width="1.15"/>
<line x1="466.99" y1="131.5" x2="466.99" y2="142.8" stroke="#34495a" stroke-width="1.15"/>
<line x1="471.15" y1="120.3" x2="471.15" y2="137.1" stroke="#7f8f9d" stroke-width="1.15"/>
<line x1="475.32" y1="121.3" x2="475.32" y2="130.5" stroke="#7f8f9d" stroke-width="1.15"/>
<line x1="479.49" y1="132" x2="479.49" y2="139.2" stroke="#34495a" stroke-width="1.15"/>
<line x1="483.65" y1="135.6" x2="483.65" y2="140.2" stroke="#7f8f9d" stroke-width="1.15"/>
<line x1="487.82" y1="136.1" x2="487.82" y2="142.2" stroke="#7f8f9d" stroke-width="1.15"/>
<line x1="491.98" y1="139.2" x2="491.98" y2="144.8" stroke="#7f8f9d" stroke-width="1.15"/>
<line x1="496.15" y1="140.7" x2="496.15" y2="147.9" stroke="#7f8f9d" stroke-width="1.15"/>
<line x1="500.32" y1="136.6" x2="500.32" y2="145.8" stroke="#7f8f9d" stroke-width="1.15"/>
<line x1="504.48" y1="135.1" x2="504.48" y2="139.7" stroke="#7f8f9d" stroke-width="1.15"/>
<line x1="508.65" y1="132.2" x2="508.65" y2="138.2" stroke="#7f8f9d" stroke-width="1.15"/>
<line x1="512.81" y1="119.3" x2="512.81" y2="125.7" stroke="#7f8f9d" stroke-width="1.15"/>
<line x1="516.98" y1="119.3" x2="516.98" y2="122.9" stroke="#7f8f9d" stroke-width="1.15"/>
<line x1="521.15" y1="120.3" x2="521.15" y2="124.1" stroke="#7f8f9d" stroke-width="1.15"/>
<line x1="525.31" y1="128.8" x2="525.31" y2="133.6" stroke="#7f8f9d" stroke-width="1.15"/>
<line x1="529.48" y1="123.4" x2="529.48" y2="133.6" stroke="#34495a" stroke-width="1.15"/>
<line x1="533.64" y1="129" x2="533.64" y2="134.1" stroke="#7f8f9d" stroke-width="1.15"/>
<line x1="537.81" y1="122.3" x2="537.81" y2="129" stroke="#7f8f9d" stroke-width="1.15"/>
<line x1="541.98" y1="112.4" x2="541.98" y2="117.8" stroke="#34495a" stroke-width="1.15"/>
<line x1="546.14" y1="105.5" x2="546.14" y2="112.1" stroke="#7f8f9d" stroke-width="1.15"/>
<line x1="550.31" y1="104.5" x2="550.31" y2="109.6" stroke="#7f8f9d" stroke-width="1.15"/>
<line x1="554.47" y1="103.7" x2="554.47" y2="108.8" stroke="#7f8f9d" stroke-width="1.15"/>
<line x1="558.64" y1="95.3" x2="558.64" y2="106" stroke="#7f8f9d" stroke-width="1.15"/>
<line x1="562.81" y1="92.2" x2="562.81" y2="96.8" stroke="#34495a" stroke-width="1.15"/>
<line x1="566.97" y1="96.8" x2="566.97" y2="103.1" stroke="#7f8f9d" stroke-width="1.15"/>
<line x1="571.14" y1="97" x2="571.14" y2="101.7" stroke="#7f8f9d" stroke-width="1.15"/>
<line x1="575.3" y1="95.4" x2="575.3" y2="101" stroke="#7f8f9d" stroke-width="1.15"/>
<line x1="579.47" y1="91.3" x2="579.47" y2="98" stroke="#7f8f9d" stroke-width="1.15"/>
<line x1="583.64" y1="91.3" x2="583.64" y2="98.5" stroke="#7f8f9d" stroke-width="1.15"/>
<line x1="587.8" y1="85.7" x2="587.8" y2="102.6" stroke="#7f8f9d" stroke-width="1.15"/>
<line x1="591.97" y1="89.3" x2="591.97" y2="101" stroke="#7f8f9d" stroke-width="1.15"/>
<line x1="596.13" y1="88.3" x2="596.13" y2="93.4" stroke="#7f8f9d" stroke-width="1.15"/>
<line x1="600.3" y1="89.8" x2="600.3" y2="94.9" stroke="#34495a" stroke-width="1.15"/>
<line x1="604.47" y1="98.7" x2="604.47" y2="107.7" stroke="#7f8f9d" stroke-width="1.15"/>
<line x1="608.63" y1="104.6" x2="608.63" y2="111.7" stroke="#7f8f9d" stroke-width="1.15"/>
<line x1="612.8" y1="101.3" x2="612.8" y2="114.3" stroke="#7f8f9d" stroke-width="1.15"/>
<line x1="616.96" y1="104.3" x2="616.96" y2="110.5" stroke="#7f8f9d" stroke-width="1.15"/>
<line x1="621.13" y1="104.7" x2="621.13" y2="116.9" stroke="#7f8f9d" stroke-width="1.15"/>
<line x1="625.3" y1="108.3" x2="625.3" y2="117.4" stroke="#7f8f9d" stroke-width="1.15"/>
<line x1="629.46" y1="103.2" x2="629.46" y2="118" stroke="#7f8f9d" stroke-width="1.15"/>
<line x1="633.63" y1="114.9" x2="633.63" y2="121.3" stroke="#7f8f9d" stroke-width="1.15"/>
<line x1="637.79" y1="110.3" x2="637.79" y2="118.5" stroke="#7f8f9d" stroke-width="1.15"/>
<line x1="641.96" y1="113.9" x2="641.96" y2="123.4" stroke="#7f8f9d" stroke-width="1.15"/>
<line x1="646.13" y1="122.1" x2="646.13" y2="130.2" stroke="#7f8f9d" stroke-width="1.15"/>
<line x1="650.29" y1="125.4" x2="650.29" y2="137.9" stroke="#7f8f9d" stroke-width="1.15"/>
<line x1="654.46" y1="134.3" x2="654.46" y2="144" stroke="#7f8f9d" stroke-width="1.15"/>
<line x1="658.62" y1="128.2" x2="658.62" y2="138.9" stroke="#7f8f9d" stroke-width="1.15"/>
<line x1="662.79" y1="125.6" x2="662.79" y2="133.3" stroke="#7f8f9d" stroke-width="1.15"/>
<line x1="666.96" y1="121" x2="666.96" y2="130.7" stroke="#7f8f9d" stroke-width="1.15"/>
<line x1="671.12" y1="117.4" x2="671.12" y2="135.8" stroke="#7f8f9d" stroke-width="1.15"/>
<line x1="675.29" y1="126.2" x2="675.29" y2="140" stroke="#7f8f9d" stroke-width="1.15"/>
<line x1="679.45" y1="121.6" x2="679.45" y2="128.8" stroke="#7f8f9d" stroke-width="1.15"/>
<line x1="683.62" y1="107.9" x2="683.62" y2="122.7" stroke="#7f8f9d" stroke-width="1.15"/>
<line x1="687.79" y1="103.8" x2="687.79" y2="108.9" stroke="#7f8f9d" stroke-width="1.15"/>
<line x1="691.95" y1="99.7" x2="691.95" y2="106.3" stroke="#7f8f9d" stroke-width="1.15"/>
<line x1="696.12" y1="98.7" x2="696.12" y2="107.3" stroke="#7f8f9d" stroke-width="1.15"/>
<line x1="700.28" y1="104.3" x2="700.28" y2="108.9" stroke="#7f8f9d" stroke-width="1.15"/>
<line x1="704.45" y1="109.9" x2="704.45" y2="120.1" stroke="#7f8f9d" stroke-width="1.15"/>
<line x1="708.62" y1="116.3" x2="708.62" y2="122.4" stroke="#7f8f9d" stroke-width="1.15"/>
<line x1="712.78" y1="114" x2="712.78" y2="118.1" stroke="#7f8f9d" stroke-width="1.15"/>
<line x1="716.95" y1="108.9" x2="716.95" y2="114" stroke="#34495a" stroke-width="1.15"/>
<line x1="721.11" y1="110.4" x2="721.11" y2="116" stroke="#7f8f9d" stroke-width="1.15"/>
<line x1="725.28" y1="111.4" x2="725.28" y2="116.5" stroke="#34495a" stroke-width="1.15"/>
<line x1="729.45" y1="104.3" x2="729.45" y2="109.6" stroke="#34495a" stroke-width="1.15"/>
<line x1="733.61" y1="113.4" x2="733.61" y2="121.6" stroke="#7f8f9d" stroke-width="1.15"/>
<line x1="737.78" y1="117.5" x2="737.78" y2="122.8" stroke="#7f8f9d" stroke-width="1.15"/>
<line x1="741.94" y1="121.6" x2="741.94" y2="128.6" stroke="#34495a" stroke-width="1.15"/>
<line x1="746.11" y1="119.3" x2="746.11" y2="132.1" stroke="#7f8f9d" stroke-width="1.15"/>
<line x1="750.28" y1="137.3" x2="750.28" y2="148.1" stroke="#7f8f9d" stroke-width="1.15"/>
<line x1="754.44" y1="142" x2="754.44" y2="150.8" stroke="#7f8f9d" stroke-width="1.15"/>
<line x1="758.61" y1="146.1" x2="758.61" y2="153.1" stroke="#7f8f9d" stroke-width="1.15"/>
<line x1="762.77" y1="152.5" x2="762.77" y2="161.3" stroke="#7f8f9d" stroke-width="1.15"/>
<line x1="766.94" y1="156" x2="766.94" y2="168.3" stroke="#7f8f9d" stroke-width="1.15"/>
<line x1="771.11" y1="150.8" x2="771.11" y2="161.3" stroke="#7f8f9d" stroke-width="1.15"/>
<line x1="775.27" y1="146.7" x2="775.27" y2="160.1" stroke="#7f8f9d" stroke-width="1.15"/>
<line x1="779.44" y1="153.7" x2="779.44" y2="163" stroke="#34495a" stroke-width="1.15"/>
<line x1="783.6" y1="157.2" x2="783.6" y2="172.3" stroke="#7f8f9d" stroke-width="1.15"/>
<line x1="787.77" y1="161.4" x2="787.77" y2="171.3" stroke="#7f8f9d" stroke-width="1.15"/>
<line x1="791.94" y1="161.4" x2="791.94" y2="170.2" stroke="#34495a" stroke-width="1.15"/>
<line x1="796.1" y1="149.8" x2="796.1" y2="171.3" stroke="#7f8f9d" stroke-width="1.15"/>
<line x1="800.27" y1="144.7" x2="800.27" y2="157.6" stroke="#7f8f9d" stroke-width="1.15"/>
<line x1="804.43" y1="135.2" x2="804.43" y2="145.1" stroke="#7f8f9d" stroke-width="1.15"/>
<line x1="808.6" y1="136.3" x2="808.6" y2="143.3" stroke="#34495a" stroke-width="1.15"/>
<line x1="812.77" y1="134.6" x2="812.77" y2="148" stroke="#7f8f9d" stroke-width="1.15"/>
<line x1="816.93" y1="136.9" x2="816.93" y2="150.9" stroke="#7f8f9d" stroke-width="1.15"/>
<line x1="821.1" y1="135.8" x2="821.1" y2="142.8" stroke="#7f8f9d" stroke-width="1.15"/>
<line x1="825.26" y1="133.4" x2="825.26" y2="145.1" stroke="#7f8f9d" stroke-width="1.15"/>
<line x1="829.43" y1="141" x2="829.43" y2="150.9" stroke="#7f8f9d" stroke-width="1.15"/>
<line x1="833.6" y1="145.7" x2="833.6" y2="159.7" stroke="#7f8f9d" stroke-width="1.15"/>
<line x1="837.76" y1="158.5" x2="837.76" y2="170.4" stroke="#7f8f9d" stroke-width="1.15"/>
<line x1="841.93" y1="163.2" x2="841.93" y2="177.2" stroke="#7f8f9d" stroke-width="1.15"/>
<line x1="846.09" y1="163.4" x2="846.09" y2="171.3" stroke="#7f8f9d" stroke-width="1.15"/>
<line x1="850.26" y1="167.8" x2="850.26" y2="178.9" stroke="#7f8f9d" stroke-width="1.15"/>
<line x1="854.43" y1="179.5" x2="854.43" y2="191.2" stroke="#7f8f9d" stroke-width="1.15"/>
<line x1="858.59" y1="185.9" x2="858.59" y2="197" stroke="#7f8f9d" stroke-width="1.15"/>
<line x1="862.76" y1="180.7" x2="862.76" y2="190.6" stroke="#7f8f9d" stroke-width="1.15"/>
<line x1="866.92" y1="176.6" x2="866.92" y2="185.9" stroke="#7f8f9d" stroke-width="1.15"/>
<line x1="871.09" y1="166.1" x2="871.09" y2="175.4" stroke="#7f8f9d" stroke-width="1.15"/>
<line x1="875.26" y1="148.9" x2="875.26" y2="158.7" stroke="#7f8f9d" stroke-width="1.15"/>
<line x1="879.42" y1="136.9" x2="879.42" y2="143.9" stroke="#7f8f9d" stroke-width="1.15"/>
<line x1="883.59" y1="137.5" x2="883.59" y2="142.2" stroke="#34495a" stroke-width="1.15"/>
<line x1="887.75" y1="134" x2="887.75" y2="140.4" stroke="#7f8f9d" stroke-width="1.15"/>
<line x1="891.92" y1="133.4" x2="891.92" y2="139.8" stroke="#34495a" stroke-width="1.15"/>
<line x1="896.09" y1="133" x2="896.09" y2="134" stroke="#34495a" stroke-width="1.15"/>
<rect x="-0.85" y="251.5" width="2.5" height="7.9" fill="#dc1008" stroke="#6e1c1c" stroke-width="0.55"/>
<rect x="3.31" y="253.2" width="2.5" height="1.6" fill="#2f7f12" stroke="#1c4a14" stroke-width="0.55"/>
<rect x="7.48" y="258.3" width="2.5" height="5" fill="#dc1008" stroke="#6e1c1c" stroke-width="0.55"/>
<rect x="11.64" y="243.9" width="2.5" height="12" fill="#2f7f12" stroke="#1c4a14" stroke-width="0.55"/>
<rect x="15.81" y="239.4" width="2.5" height="4.9" fill="#dc1008" stroke="#6e1c1c" stroke-width="0.55"/>
<rect x="19.98" y="238.1" width="2.5" height="7.5" fill="#2f7f12" stroke="#1c4a14" stroke-width="0.55"/>
<rect x="24.14" y="227" width="2.5" height="8.1" fill="#2f7f12" stroke="#1c4a14" stroke-width="0.55"/>
<rect x="28.31" y="223.6" width="2.5" height="1.3" fill="#2f7f12" stroke="#1c4a14" stroke-width="0.55"/>
<rect x="32.47" y="220.7" width="2.5" height="11.1" fill="#2f7f12" stroke="#1c4a14" stroke-width="0.55"/>
<rect x="36.64" y="221" width="2.5" height="1.7" fill="#dc1008" stroke="#6e1c1c" stroke-width="0.55"/>
<rect x="40.81" y="219.4" width="2.5" height="16.4" fill="#dc1008" stroke="#6e1c1c" stroke-width="0.55"/>
<rect x="44.97" y="240.6" width="2.5" height="1.7" fill="#dc1008" stroke="#6e1c1c" stroke-width="0.55"/>
<rect x="49.14" y="226.6" width="2.5" height="13.1" fill="#2f7f12" stroke="#1c4a14" stroke-width="0.55"/>
<rect x="53.3" y="215.7" width="2.5" height="8.9" fill="#2f7f12" stroke="#1c4a14" stroke-width="0.55"/>
<rect x="57.47" y="217.4" width="2.5" height="2" fill="#2f7f12" stroke="#1c4a14" stroke-width="0.55"/>
<rect x="61.64" y="216.3" width="2.5" height="10.4" fill="#2f7f12" stroke="#1c4a14" stroke-width="0.55"/>
<rect x="65.8" y="206.6" width="2.5" height="4.1" fill="#2f7f12" stroke="#1c4a14" stroke-width="0.55"/>
<rect x="69.97" y="205" width="2.5" height="4.3" fill="#2f7f12" stroke="#1c4a14" stroke-width="0.55"/>
<rect x="74.13" y="211.2" width="2.5" height="4.8" fill="#dc1008" stroke="#6e1c1c" stroke-width="0.55"/>
<rect x="78.3" y="203.2" width="2.5" height="11.9" fill="#2f7f12" stroke="#1c4a14" stroke-width="0.55"/>
<rect x="82.47" y="193.2" width="2.5" height="12.6" fill="#2f7f12" stroke="#1c4a14" stroke-width="0.55"/>
<rect x="86.63" y="180" width="2.5" height="4.3" fill="#2f7f12" stroke="#1c4a14" stroke-width="0.55"/>
<rect x="90.8" y="190.4" width="2.5" height="1.6" fill="#2f7f12" stroke="#1c4a14" stroke-width="0.55"/>
<rect x="94.61" y="194.5" width="3.2" height="1.5" fill="#1d3442"/>
<rect x="99.13" y="183.5" width="2.5" height="14.1" fill="#2f7f12" stroke="#1c4a14" stroke-width="0.55"/>
<rect x="103.3" y="188.2" width="2.5" height="5.5" fill="#dc1008" stroke="#6e1c1c" stroke-width="0.55"/>
<rect x="107.46" y="185.6" width="2.5" height="16.1" fill="#dc1008" stroke="#6e1c1c" stroke-width="0.55"/>
<rect x="111.63" y="199.4" width="2.5" height="4.5" fill="#2f7f12" stroke="#1c4a14" stroke-width="0.55"/>
<rect x="115.79" y="189" width="2.5" height="9.4" fill="#2f7f12" stroke="#1c4a14" stroke-width="0.55"/>
<rect x="119.96" y="189.2" width="2.5" height="3.1" fill="#2f7f12" stroke="#1c4a14" stroke-width="0.55"/>
<rect x="124.13" y="186.2" width="2.5" height="8.6" fill="#2f7f12" stroke="#1c4a14" stroke-width="0.55"/>
<rect x="128.29" y="197.4" width="2.5" height="1.5" fill="#dc1008" stroke="#6e1c1c" stroke-width="0.55"/>
<rect x="132.46" y="201.3" width="2.5" height="2.4" fill="#2f7f12" stroke="#1c4a14" stroke-width="0.55"/>
<rect x="136.62" y="210.4" width="2.5" height="9.4" fill="#dc1008" stroke="#6e1c1c" stroke-width="0.55"/>
<rect x="140.79" y="218.6" width="2.5" height="2.1" fill="#dc1008" stroke="#6e1c1c" stroke-width="0.55"/>
<rect x="144.96" y="213.9" width="2.5" height="1.9" fill="#dc1008" stroke="#6e1c1c" stroke-width="0.55"/>
<rect x="149.12" y="225.4" width="2.5" height="2.1" fill="#2f7f12" stroke="#1c4a14" stroke-width="0.55"/>
<rect x="153.29" y="217.8" width="2.5" height="4.6" fill="#dc1008" stroke="#6e1c1c" stroke-width="0.55"/>
<rect x="157.1" y="223.85" width="3.2" height="1.5" fill="#1d3442"/>
<rect x="161.62" y="227.5" width="2.5" height="1.5" fill="#dc1008" stroke="#6e1c1c" stroke-width="0.55"/>
<rect x="165.79" y="221.9" width="2.5" height="11.7" fill="#2f7f12" stroke="#1c4a14" stroke-width="0.55"/>
<rect x="169.95" y="208.1" width="2.5" height="9.2" fill="#2f7f12" stroke="#1c4a14" stroke-width="0.55"/>
<rect x="174.12" y="206" width="2.5" height="1.4" fill="#dc1008" stroke="#6e1c1c" stroke-width="0.55"/>
<rect x="178.28" y="207.4" width="2.5" height="13.1" fill="#dc1008" stroke="#6e1c1c" stroke-width="0.55"/>
<rect x="182.1" y="218.9" width="3.2" height="1.5" fill="#1d3442"/>
<rect x="186.62" y="218" width="2.5" height="17.8" fill="#dc1008" stroke="#6e1c1c" stroke-width="0.55"/>
<rect x="190.78" y="237" width="2.5" height="11.6" fill="#dc1008" stroke="#6e1c1c" stroke-width="0.55"/>
<rect x="194.95" y="250.1" width="2.5" height="7.7" fill="#2f7f12" stroke="#1c4a14" stroke-width="0.55"/>
<rect x="199.11" y="236" width="2.5" height="2.4" fill="#2f7f12" stroke="#1c4a14" stroke-width="0.55"/>
<rect x="203.28" y="241.4" width="2.5" height="7.2" fill="#2f7f12" stroke="#1c4a14" stroke-width="0.55"/>
<rect x="207.45" y="229.2" width="2.5" height="17.8" fill="#2f7f12" stroke="#1c4a14" stroke-width="0.55"/>
<rect x="211.61" y="232.2" width="2.5" height="7.2" fill="#dc1008" stroke="#6e1c1c" stroke-width="0.55"/>
<rect x="215.78" y="230.9" width="2.5" height="6.4" fill="#2f7f12" stroke="#1c4a14" stroke-width="0.55"/>
<rect x="219.94" y="219.2" width="2.5" height="4.2" fill="#2f7f12" stroke="#1c4a14" stroke-width="0.55"/>
<rect x="224.11" y="220" width="2.5" height="14.3" fill="#dc1008" stroke="#6e1c1c" stroke-width="0.55"/>
<rect x="228.28" y="227.9" width="2.5" height="4.3" fill="#dc1008" stroke="#6e1c1c" stroke-width="0.55"/>
<rect x="232.44" y="227.1" width="2.5" height="8.2" fill="#2f7f12" stroke="#1c4a14" stroke-width="0.55"/>
<rect x="236.61" y="221.2" width="2.5" height="3.7" fill="#dc1008" stroke="#6e1c1c" stroke-width="0.55"/>
<rect x="240.77" y="226.1" width="2.5" height="2" fill="#dc1008" stroke="#6e1c1c" stroke-width="0.55"/>
<rect x="244.94" y="213.8" width="2.5" height="2.3" fill="#2f7f12" stroke="#1c4a14" stroke-width="0.55"/>
<rect x="249.11" y="207.9" width="2.5" height="1.3" fill="#dc1008" stroke="#6e1c1c" stroke-width="0.55"/>
<rect x="253.27" y="196.3" width="2.5" height="10.4" fill="#2f7f12" stroke="#1c4a14" stroke-width="0.55"/>
<rect x="257.44" y="192.6" width="2.5" height="5.1" fill="#2f7f12" stroke="#1c4a14" stroke-width="0.55"/>
<rect x="261.6" y="191.2" width="2.5" height="7.3" fill="#dc1008" stroke="#6e1c1c" stroke-width="0.55"/>
<rect x="265.42" y="199.55" width="3.2" height="1.5" fill="#1d3442"/>
<rect x="269.94" y="197" width="2.5" height="5.6" fill="#2f7f12" stroke="#1c4a14" stroke-width="0.55"/>
<rect x="274.1" y="196" width="2.5" height="6.6" fill="#2f7f12" stroke="#1c4a14" stroke-width="0.55"/>
<rect x="277.92" y="194.75" width="3.2" height="1.5" fill="#1d3442"/>
<rect x="282.43" y="190.9" width="2.5" height="8.7" fill="#dc1008" stroke="#6e1c1c" stroke-width="0.55"/>
<rect x="286.6" y="187" width="2.5" height="9.7" fill="#2f7f12" stroke="#1c4a14" stroke-width="0.55"/>
<rect x="290.42" y="188.65" width="3.2" height="1.5" fill="#1d3442"/>
<rect x="294.93" y="186.3" width="2.5" height="3.5" fill="#2f7f12" stroke="#1c4a14" stroke-width="0.55"/>
<rect x="299.1" y="182.9" width="2.5" height="3.1" fill="#dc1008" stroke="#6e1c1c" stroke-width="0.55"/>
<rect x="303.26" y="186" width="2.5" height="4.4" fill="#2f7f12" stroke="#1c4a14" stroke-width="0.55"/>
<rect x="307.43" y="191.1" width="2.5" height="1.3" fill="#2f7f12" stroke="#1c4a14" stroke-width="0.55"/>
<rect x="311.25" y="189.55" width="3.2" height="1.5" fill="#1d3442"/>
<rect x="315.76" y="189" width="2.5" height="2.1" fill="#2f7f12" stroke="#1c4a14" stroke-width="0.55"/>
<rect x="319.93" y="194.4" width="2.5" height="9.2" fill="#dc1008" stroke="#6e1c1c" stroke-width="0.55"/>
<rect x="324.09" y="202.6" width="2.5" height="5.1" fill="#dc1008" stroke="#6e1c1c" stroke-width="0.55"/>
<rect x="328.26" y="189.6" width="2.5" height="12.7" fill="#2f7f12" stroke="#1c4a14" stroke-width="0.55"/>
<rect x="332.43" y="181.9" width="2.5" height="10.2" fill="#2f7f12" stroke="#1c4a14" stroke-width="0.55"/>
<rect x="336.24" y="181.6" width="3.2" height="1.5" fill="#1d3442"/>
<rect x="340.76" y="184.3" width="2.5" height="9.2" fill="#dc1008" stroke="#6e1c1c" stroke-width="0.55"/>
<rect x="344.92" y="192.2" width="2.5" height="7.4" fill="#dc1008" stroke="#6e1c1c" stroke-width="0.55"/>
<rect x="349.09" y="201.9" width="2.5" height="4.6" fill="#dc1008" stroke="#6e1c1c" stroke-width="0.55"/>
<rect x="353.26" y="189.1" width="2.5" height="8.7" fill="#2f7f12" stroke="#1c4a14" stroke-width="0.55"/>
<rect x="357.07" y="187.9" width="3.2" height="1.5" fill="#1d3442"/>
<rect x="361.24" y="190.6" width="3.2" height="1.5" fill="#1d3442"/>
<rect x="365.75" y="186.6" width="2.5" height="2" fill="#dc1008" stroke="#6e1c1c" stroke-width="0.55"/>
<rect x="369.57" y="190.05" width="3.2" height="1.5" fill="#1d3442"/>
<rect x="374.09" y="187.1" width="2.5" height="4.6" fill="#dc1008" stroke="#6e1c1c" stroke-width="0.55"/>
<rect x="378.25" y="188.1" width="2.5" height="2.6" fill="#2f7f12" stroke="#1c4a14" stroke-width="0.55"/>
<rect x="382.42" y="191.2" width="2.5" height="3" fill="#dc1008" stroke="#6e1c1c" stroke-width="0.55"/>
<rect x="386.58" y="183" width="2.5" height="6.1" fill="#2f7f12" stroke="#1c4a14" stroke-width="0.55"/>
<rect x="390.75" y="174.3" width="2.5" height="10.2" fill="#2f7f12" stroke="#1c4a14" stroke-width="0.55"/>
<rect x="394.92" y="173.1" width="2.5" height="2.5" fill="#dc1008" stroke="#6e1c1c" stroke-width="0.55"/>
<rect x="398.73" y="174.8" width="3.2" height="1.5" fill="#1d3442"/>
<rect x="403.25" y="179.4" width="2.5" height="6.6" fill="#dc1008" stroke="#6e1c1c" stroke-width="0.55"/>
<rect x="407.41" y="190.1" width="2.5" height="2.6" fill="#dc1008" stroke="#6e1c1c" stroke-width="0.55"/>
<rect x="411.23" y="184.25" width="3.2" height="1.5" fill="#1d3442"/>
<rect x="415.75" y="172.8" width="2.5" height="10.2" fill="#2f7f12" stroke="#1c4a14" stroke-width="0.55"/>
<rect x="419.91" y="168.2" width="2.5" height="4.6" fill="#dc1008" stroke="#6e1c1c" stroke-width="0.55"/>
<rect x="423.73" y="176.5" width="3.2" height="1.5" fill="#1d3442"/>
<rect x="428.24" y="169.2" width="2.5" height="7.6" fill="#2f7f12" stroke="#1c4a14" stroke-width="0.55"/>
<rect x="432.41" y="154.9" width="2.5" height="8.2" fill="#2f7f12" stroke="#1c4a14" stroke-width="0.55"/>
<rect x="436.58" y="154.6" width="2.5" height="2.3" fill="#dc1008" stroke="#6e1c1c" stroke-width="0.55"/>
<rect x="440.74" y="155.2" width="2.5" height="3.1" fill="#2f7f12" stroke="#1c4a14" stroke-width="0.55"/>
<rect x="444.91" y="154.9" width="2.5" height="3.4" fill="#dc1008" stroke="#6e1c1c" stroke-width="0.55"/>
<rect x="449.07" y="152.9" width="2.5" height="5.1" fill="#2f7f12" stroke="#1c4a14" stroke-width="0.55"/>
<rect x="452.89" y="149.9" width="3.2" height="1.5" fill="#1d3442"/>
<rect x="457.41" y="142.2" width="2.5" height="6.7" fill="#2f7f12" stroke="#1c4a14" stroke-width="0.55"/>
<rect x="461.57" y="136.1" width="2.5" height="2.6" fill="#2f7f12" stroke="#1c4a14" stroke-width="0.55"/>
<rect x="465.39" y="134.35" width="3.2" height="1.5" fill="#1d3442"/>
<rect x="469.9" y="126.4" width="2.5" height="10.2" fill="#2f7f12" stroke="#1c4a14" stroke-width="0.55"/>
<rect x="474.07" y="121.8" width="2.5" height="7.7" fill="#dc1008" stroke="#6e1c1c" stroke-width="0.55"/>
<rect x="477.89" y="134.1" width="3.2" height="1.5" fill="#1d3442"/>
<rect x="482.4" y="137.4" width="2.5" height="2.3" fill="#dc1008" stroke="#6e1c1c" stroke-width="0.55"/>
<rect x="486.57" y="136.4" width="2.5" height="5.3" fill="#2f7f12" stroke="#1c4a14" stroke-width="0.55"/>
<rect x="490.73" y="143" width="2.5" height="1.3" fill="#2f7f12" stroke="#1c4a14" stroke-width="0.55"/>
<rect x="494.9" y="145.3" width="2.5" height="2.4" fill="#dc1008" stroke="#6e1c1c" stroke-width="0.55"/>
<rect x="499.07" y="136.8" width="2.5" height="8.5" fill="#2f7f12" stroke="#1c4a14" stroke-width="0.55"/>
<rect x="503.23" y="137.1" width="2.5" height="2.1" fill="#2f7f12" stroke="#1c4a14" stroke-width="0.55"/>
<rect x="507.4" y="132.6" width="2.5" height="5.1" fill="#2f7f12" stroke="#1c4a14" stroke-width="0.55"/>
<rect x="511.56" y="120.8" width="2.5" height="4.6" fill="#2f7f12" stroke="#1c4a14" stroke-width="0.55"/>
<rect x="515.73" y="120" width="2.5" height="2.3" fill="#2f7f12" stroke="#1c4a14" stroke-width="0.55"/>
<rect x="519.9" y="121.3" width="2.5" height="2.6" fill="#2f7f12" stroke="#1c4a14" stroke-width="0.55"/>
<rect x="524.06" y="129.5" width="2.5" height="1.5" fill="#2f7f12" stroke="#1c4a14" stroke-width="0.55"/>
<rect x="527.88" y="131.8" width="3.2" height="1.5" fill="#1d3442"/>
<rect x="532.39" y="129.8" width="2.5" height="2.8" fill="#2f7f12" stroke="#1c4a14" stroke-width="0.55"/>
<rect x="536.56" y="122.9" width="2.5" height="5" fill="#2f7f12" stroke="#1c4a14" stroke-width="0.55"/>
<rect x="540.38" y="113.95" width="3.2" height="1.5" fill="#1d3442"/>
<rect x="544.89" y="107" width="2.5" height="3.6" fill="#2f7f12" stroke="#1c4a14" stroke-width="0.55"/>
<rect x="549.06" y="105.5" width="2.5" height="2.3" fill="#dc1008" stroke="#6e1c1c" stroke-width="0.55"/>
<rect x="553.22" y="104.5" width="2.5" height="3.9" fill="#2f7f12" stroke="#1c4a14" stroke-width="0.55"/>
<rect x="557.39" y="97.1" width="2.5" height="8.4" fill="#2f7f12" stroke="#1c4a14" stroke-width="0.55"/>
<rect x="561.21" y="94.55" width="3.2" height="1.5" fill="#1d3442"/>
<rect x="565.72" y="97.7" width="2.5" height="4" fill="#dc1008" stroke="#6e1c1c" stroke-width="0.55"/>
<rect x="569.89" y="97.4" width="2.5" height="4.1" fill="#dc1008" stroke="#6e1c1c" stroke-width="0.55"/>
<rect x="574.05" y="96.9" width="2.5" height="2.4" fill="#2f7f12" stroke="#1c4a14" stroke-width="0.55"/>
<rect x="578.22" y="94.4" width="2.5" height="2.8" fill="#2f7f12" stroke="#1c4a14" stroke-width="0.55"/>
<rect x="582.39" y="94.2" width="2.5" height="2.2" fill="#2f7f12" stroke="#1c4a14" stroke-width="0.55"/>
<rect x="586.55" y="86.4" width="2.5" height="15.6" fill="#dc1008" stroke="#6e1c1c" stroke-width="0.55"/>
<rect x="590.72" y="91.1" width="2.5" height="2.5" fill="#2f7f12" stroke="#1c4a14" stroke-width="0.55"/>
<rect x="594.88" y="88.8" width="2.5" height="1.3" fill="#2f7f12" stroke="#1c4a14" stroke-width="0.55"/>
<rect x="598.7" y="91.6" width="3.2" height="1.5" fill="#1d3442"/>
<rect x="603.22" y="99.5" width="2.5" height="6.1" fill="#dc1008" stroke="#6e1c1c" stroke-width="0.55"/>
<rect x="607.38" y="109.2" width="2.5" height="1.5" fill="#2f7f12" stroke="#1c4a14" stroke-width="0.55"/>
<rect x="611.55" y="104.8" width="2.5" height="8.5" fill="#dc1008" stroke="#6e1c1c" stroke-width="0.55"/>
<rect x="615.71" y="104.6" width="2.5" height="5.1" fill="#2f7f12" stroke="#1c4a14" stroke-width="0.55"/>
<rect x="619.88" y="109.3" width="2.5" height="1.2" fill="#2f7f12" stroke="#1c4a14" stroke-width="0.55"/>
<rect x="624.05" y="108.3" width="2.5" height="7.6" fill="#dc1008" stroke="#6e1c1c" stroke-width="0.55"/>
<rect x="628.21" y="110.1" width="2.5" height="5.5" fill="#dc1008" stroke="#6e1c1c" stroke-width="0.55"/>
<rect x="632.38" y="116.2" width="2.5" height="3.8" fill="#2f7f12" stroke="#1c4a14" stroke-width="0.55"/>
<rect x="636.54" y="110.8" width="2.5" height="7.5" fill="#2f7f12" stroke="#1c4a14" stroke-width="0.55"/>
<rect x="640.71" y="114.4" width="2.5" height="7.6" fill="#dc1008" stroke="#6e1c1c" stroke-width="0.55"/>
<rect x="644.88" y="123.1" width="2.5" height="6.6" fill="#dc1008" stroke="#6e1c1c" stroke-width="0.55"/>
<rect x="649.04" y="125.6" width="2.5" height="11.2" fill="#dc1008" stroke="#6e1c1c" stroke-width="0.55"/>
<rect x="653.21" y="136.3" width="2.5" height="6.7" fill="#2f7f12" stroke="#1c4a14" stroke-width="0.55"/>
<rect x="657.37" y="130.2" width="2.5" height="3.6" fill="#2f7f12" stroke="#1c4a14" stroke-width="0.55"/>
<rect x="661.54" y="126.1" width="2.5" height="6.7" fill="#dc1008" stroke="#6e1c1c" stroke-width="0.55"/>
<rect x="665.71" y="121.5" width="2.5" height="8.7" fill="#2f7f12" stroke="#1c4a14" stroke-width="0.55"/>
<rect x="669.87" y="119" width="2.5" height="16.6" fill="#dc1008" stroke="#6e1c1c" stroke-width="0.55"/>
<rect x="674.04" y="128.3" width="2.5" height="3" fill="#2f7f12" stroke="#1c4a14" stroke-width="0.55"/>
<rect x="678.2" y="122.1" width="2.5" height="1.6" fill="#2f7f12" stroke="#1c4a14" stroke-width="0.55"/>
<rect x="682.37" y="108.4" width="2.5" height="14" fill="#2f7f12" stroke="#1c4a14" stroke-width="0.55"/>
<rect x="686.54" y="104.1" width="2.5" height="3.8" fill="#2f7f12" stroke="#1c4a14" stroke-width="0.55"/>
<rect x="690.7" y="103.1" width="2.5" height="2.7" fill="#dc1008" stroke="#6e1c1c" stroke-width="0.55"/>
<rect x="694.87" y="99.4" width="2.5" height="3.9" fill="#dc1008" stroke="#6e1c1c" stroke-width="0.55"/>
<rect x="699.03" y="104.8" width="2.5" height="3.6" fill="#dc1008" stroke="#6e1c1c" stroke-width="0.55"/>
<rect x="703.2" y="110.4" width="2.5" height="3.6" fill="#dc1008" stroke="#6e1c1c" stroke-width="0.55"/>
<rect x="707.37" y="117.8" width="2.5" height="2.8" fill="#2f7f12" stroke="#1c4a14" stroke-width="0.55"/>
<rect x="711.53" y="116" width="2.5" height="1.8" fill="#2f7f12" stroke="#1c4a14" stroke-width="0.55"/>
<rect x="715.35" y="109.15" width="3.2" height="1.5" fill="#1d3442"/>
<rect x="719.86" y="113.3" width="2.5" height="1.7" fill="#dc1008" stroke="#6e1c1c" stroke-width="0.55"/>
<rect x="723.68" y="114.05" width="3.2" height="1.5" fill="#1d3442"/>
<rect x="727.85" y="107.9" width="3.2" height="1.5" fill="#1d3442"/>
<rect x="732.36" y="113.8" width="2.5" height="7.4" fill="#dc1008" stroke="#6e1c1c" stroke-width="0.55"/>
<rect x="736.53" y="120.4" width="2.5" height="1.5" fill="#2f7f12" stroke="#1c4a14" stroke-width="0.55"/>
<rect x="740.34" y="121.6" width="3.2" height="1.5" fill="#1d3442"/>
<rect x="744.86" y="119.8" width="2.5" height="11.7" fill="#dc1008" stroke="#6e1c1c" stroke-width="0.55"/>
<rect x="749.03" y="137.9" width="2.5" height="9.9" fill="#dc1008" stroke="#6e1c1c" stroke-width="0.55"/>
<rect x="753.19" y="145.5" width="2.5" height="4.1" fill="#dc1008" stroke="#6e1c1c" stroke-width="0.55"/>
<rect x="757.36" y="146.4" width="2.5" height="6.3" fill="#2f7f12" stroke="#1c4a14" stroke-width="0.55"/>
<rect x="761.52" y="152.7" width="2.5" height="7.4" fill="#dc1008" stroke="#6e1c1c" stroke-width="0.55"/>
<rect x="765.69" y="156.9" width="2.5" height="2.4" fill="#dc1008" stroke="#6e1c1c" stroke-width="0.55"/>
<rect x="769.86" y="153.9" width="2.5" height="6.8" fill="#2f7f12" stroke="#1c4a14" stroke-width="0.55"/>
<rect x="774.02" y="147.3" width="2.5" height="9.3" fill="#dc1008" stroke="#6e1c1c" stroke-width="0.55"/>
<rect x="777.84" y="156.75" width="3.2" height="1.5" fill="#1d3442"/>
<rect x="782.35" y="161.8" width="2.5" height="8.2" fill="#dc1008" stroke="#6e1c1c" stroke-width="0.55"/>
<rect x="786.52" y="162" width="2.5" height="6.4" fill="#2f7f12" stroke="#1c4a14" stroke-width="0.55"/>
<rect x="790.34" y="162.8" width="3.2" height="1.5" fill="#1d3442"/>
<rect x="794.85" y="152.1" width="2.5" height="16.3" fill="#2f7f12" stroke="#1c4a14" stroke-width="0.55"/>
<rect x="799.02" y="145.4" width="2.5" height="11.4" fill="#2f7f12" stroke="#1c4a14" stroke-width="0.55"/>
<rect x="803.18" y="140.4" width="2.5" height="4.1" fill="#2f7f12" stroke="#1c4a14" stroke-width="0.55"/>
<rect x="807" y="136.75" width="3.2" height="1.5" fill="#1d3442"/>
<rect x="811.52" y="134.9" width="2.5" height="7.3" fill="#dc1008" stroke="#6e1c1c" stroke-width="0.55"/>
<rect x="815.68" y="139.3" width="2.5" height="8.1" fill="#dc1008" stroke="#6e1c1c" stroke-width="0.55"/>
<rect x="819.85" y="137.3" width="2.5" height="4.9" fill="#2f7f12" stroke="#1c4a14" stroke-width="0.55"/>
<rect x="824.01" y="137.3" width="2.5" height="7.4" fill="#2f7f12" stroke="#1c4a14" stroke-width="0.55"/>
<rect x="828.18" y="141.6" width="2.5" height="8.2" fill="#dc1008" stroke="#6e1c1c" stroke-width="0.55"/>
<rect x="832.35" y="148.6" width="2.5" height="10.5" fill="#dc1008" stroke="#6e1c1c" stroke-width="0.55"/>
<rect x="836.51" y="159.7" width="2.5" height="10.5" fill="#dc1008" stroke="#6e1c1c" stroke-width="0.55"/>
<rect x="840.68" y="172.5" width="2.5" height="1.4" fill="#2f7f12" stroke="#1c4a14" stroke-width="0.55"/>
<rect x="844.84" y="164.9" width="2.5" height="2" fill="#2f7f12" stroke="#1c4a14" stroke-width="0.55"/>
<rect x="849.01" y="168.8" width="2.5" height="9.5" fill="#dc1008" stroke="#6e1c1c" stroke-width="0.55"/>
<rect x="853.18" y="180.4" width="2.5" height="9.4" fill="#dc1008" stroke="#6e1c1c" stroke-width="0.55"/>
<rect x="857.34" y="186.5" width="2.5" height="7" fill="#dc1008" stroke="#6e1c1c" stroke-width="0.55"/>
<rect x="861.51" y="182.4" width="2.5" height="5.3" fill="#2f7f12" stroke="#1c4a14" stroke-width="0.55"/>
<rect x="865.67" y="177.2" width="2.5" height="4.1" fill="#2f7f12" stroke="#1c4a14" stroke-width="0.55"/>
<rect x="869.84" y="167.3" width="2.5" height="7.5" fill="#2f7f12" stroke="#1c4a14" stroke-width="0.55"/>
<rect x="874.01" y="149.2" width="2.5" height="9.3" fill="#2f7f12" stroke="#1c4a14" stroke-width="0.55"/>
<rect x="878.17" y="140.8" width="2.5" height="2.3" fill="#2f7f12" stroke="#1c4a14" stroke-width="0.55"/>
<rect x="881.99" y="137.75" width="3.2" height="1.5" fill="#1d3442"/>
<rect x="886.5" y="135.2" width="2.5" height="2.9" fill="#2f7f12" stroke="#1c4a14" stroke-width="0.55"/>
<rect x="890.32" y="133.45" width="3.2" height="1.5" fill="#1d3442"/>
<rect x="894.49" y="132.75" width="3.2" height="1.5" fill="#1d3442"/>
<polyline points="4.4,378.7 9.9,378.7 15.4,377.4 22,374.7 28.6,371.4 35.2,368.1 41.8,364.8 48.4,361.5 54.9,358.5 61.5,355.8 68.1,353.6 74.7,351.9 81.3,349.7 87.9,347.9 94.5,345.3 101.1,342.9 107.7,341.3 114.3,341.3 123.1,340.9 131.9,340.4 137.4,339.3 149.5,339.3 160.4,339.3 175.8,339.3 184.6,338.5 193.4,339.3 208.8,339.1 215.4,338.5 225,338 236,337.4 247,336.9 258,335.6 269,333.4 282.1,332.1 287.6,333 297.5,332.1 312.9,331.9 323.9,331.2 334.9,330.1 345.9,329.9 356.9,329.7 367.9,329.9 378.8,330.1 392,330.3 396.4,331.2 411.8,331.2 422.8,331 427.2,329.9 444.8,330.1 450,331.2 461,333.4 472,336.9 478.6,339.1 489.6,341.3 500.5,343.5 511.5,345.7 522.5,347.9 533.5,349.2 545.6,350.1 555.5,349.5 568.7,348.4 581.9,349.5 590.7,348.4 599.5,346.2 608.2,344 614.8,341.8 623.6,340 630.2,338.5 639,337.8 647.8,336.3 658.8,334.7 667.6,331.9 675,330 681.6,328.2 692.6,328.2 700.3,328.9 708,328.2 719,327.6 732.1,327.6 747.5,327.1 758.5,325.4 767.3,323.6 778.3,322.3 787.1,321 795.9,317.3 806.9,313.5 817.9,309.6 828.8,305.2 837.6,301.2 846.4,297.5 855.2,294.8 866.2,293.1 877.2,289.8 886,287.6 894.8,285.8" fill="none" stroke="#842dc0" stroke-width="1.2" stroke-linejoin="round" stroke-linecap="round" stroke-opacity="0.76"/>
<polyline points="4.4,272.6 22,273.7 44,271.9 65.9,270.4 87.9,269.3 109.9,268.4 131.9,268.4 153.8,268.2 175.8,268.2 197.8,268.2 219.8,268.6 225,268.6 247,268 258,266.7 269,265.2 290.9,263 312.9,261.9 334.9,261.4 356.9,260.8 378.8,260.3 400.8,260.3 422.8,260.3 450,260 472,261.1 494,261.1 515.9,261.5 537.9,259.8 559.9,256.7 581.9,253.2 603.8,248.8 625.8,243.5 647.8,240 675,235.1 697,231.8 719,228.9 740.9,226.3 762.9,223.6 784.9,220.8 806.9,217 828.8,213.1 850.8,209.8 872.8,207.6 894.8,203.8" fill="none" stroke="#c777fc" stroke-width="1.2" stroke-linejoin="round" stroke-linecap="round" stroke-opacity="0.76"/>
<polyline points="4.4,59.2 13.2,63.6 22,68 30.8,74.6 39.6,81.9 48.4,89.6 57.1,96.2 65.9,101.6 74.7,106 81.3,109.8 87.9,112 94.5,116.4 101.1,119.5 109.9,121.4 116.5,121.6 123.1,123 131.9,123.2 138.5,125.8 149.5,126 160.4,126 169.2,126.5 180.2,125.8 191.2,125.8 200,126 208.8,127.4 219.8,128.7 225,129.4 231.6,131.1 238.2,132.4 247,131.5 258,131.1 269,130.9 279.9,129.8 290.9,128.2 301.9,126.7 312.9,124.9 323.9,124.1 334.9,122.7 345.9,122.1 356.9,121 367.9,120.1 378.8,119.2 389.8,118.8 400.8,117.9 411.8,117.9 422.8,118.1 429.4,119.5 444.8,119 450,117.8 461,114.1 472,109 483,104.6 494,100.2 504.9,95.2 515.9,90.8 526.9,86.4 537.9,82 548.9,77.6 559.9,72.7 570.9,67.9 581.9,61.8 592.9,56.9 603.8,54.7 614.8,53 625.8,50.8 636.8,48.1 647.8,46.4 658.8,44.8 669.8,44.2 675,44.3 686,41.9 697,38.6 708,35.9 719,33.3 729.9,30.9 740.9,29.3 751.9,28 762.9,28 773.9,28 784.9,28 795.9,29.3 806.9,30.4 817.9,31.3 828.8,32.9 839.8,35.3 850.8,37.3 861.8,38.6 872.8,39.2 881.6,40.3 894.8,39.7" fill="none" stroke="#913bcd" stroke-width="1.2" stroke-linejoin="round" stroke-linecap="round" stroke-opacity="0.76"/>
<polyline points="0,248.4 6.6,251.7 15.4,255 22,254.3 33,250.6 44,246.2 52.7,242.5 61.5,236.3 70.3,229.3 79.1,223.1 87.9,216.1 94.5,211.7 103.3,207.7 112.1,203.4 120.9,199 127.5,196.3 131.9,195.2 140.7,196.8 149.5,200.1 158.2,204.5 167,208.8 175.8,211 184.6,215.4 191.2,219.8 197.8,224.2 206.6,227.5 215.4,229.3 225,229.8 233.8,231.5 242.6,232.2 249.2,231.1 255.8,227.8 264.6,221.9 273.4,216.8 282.1,211.8 290.9,207.4 299.7,201.4 308.5,195.9 317.3,193.3 326.1,193.7 334.9,192.2 343.7,191.5 352.5,192.2 361.3,192 370.1,192.6 378.8,192.6 387.6,192.6 392,189.8 400.8,188.9 409.6,188.9 416.2,186.6 420,185.4 427,184 435,180.5 445,176 455,171 467,163.2 478,152.7 485,149.5 495,145.3 510,140 515.9,137.6 526.9,132.7 537.9,131.6 548.9,127.3 559.9,121.8 570.9,116.3 581.9,110.8 590.7,107.5 599.5,102 608.2,99.3 617,99.3 625.8,100.9 636.8,103.1 643.4,106.4 652.2,111.9 661,117.4 669.8,120.7 675,122.3 686,121.9 697,121.2 708,119.7 719,116.4 729.9,113.7 740.9,113.1 747.5,114.6 756.3,119.7 762.9,124.7 773.9,132.9 784.9,140.1 793.7,146.7 802.5,150.4 811.3,152 820.1,152 828.8,151.1 837.6,152.6 846.4,153.7 855.2,155.9 864,159.9 872.8,163.6 881.6,163.6 894.8,162.1" fill="none" stroke="#fda300" stroke-width="1.8" stroke-linejoin="round" stroke-linecap="round" stroke-opacity="0.76"/>
<polyline points="0,240.7 17.6,238.5 33,236.3 50.5,233.7 65.9,231.5 79.1,229.7 92.3,228 109.9,226.4 127.5,225.3 142.9,224.9 158.2,224.5 171.4,222.7 186.8,220.1 202.2,218.7 219.8,217.2 225,216.7 247,215.3 269,213.5 290.9,212.4 312.9,211.8 334.9,212.2 348.1,211.8 356.9,210.2 378.8,207.4 400.8,203.6 422.8,195.9 433.8,192.6 444.8,188.2 450,186.3 472,180 494,174.1 515.9,167.9 537.9,160.5 559.9,151.5 581.9,141.5 603.8,133 625.8,124.8 647.8,119.6 669.8,118.5 675,118.2 697,114.6 719,112.4 740.9,111.5 751.9,112 762.9,115.3 773.9,119 784.9,122.5 795.9,125.2 806.9,126.9 817.9,129.1 828.8,131.3 839.8,134 850.8,136.6 861.8,139.5 872.8,141.6 883.8,142.3 894.8,143.8" fill="none" stroke="#dd9fff" stroke-width="1.9" stroke-linejoin="round" stroke-linecap="round" stroke-opacity="0.76"/>
<polyline points="4.4,164.9 22,171.5 44,179.2 65.9,185.8 79.1,189.7 92.3,192.4 109.9,195 127.5,196.3 142.9,196.8 164.8,197.2 186.8,197.2 208.8,198.3 225,199.4 247,200.3 269,198.1 290.9,195.9 312.9,193.7 334.9,192.2 356.9,190.4 378.8,189.3 400.8,188.9 422.8,188.9 444.8,189 472,184.3 494,180.3 514.4,176.5 540,170.2 560,164.4 575,161 590,156.9 598.3,153.6 610,151 625.8,147.4 647.8,143.4 669.8,140.2 675,139.6 697,135.7 719,131.3 740.9,127.8 762.9,126.3 784.9,125.2 806.9,124.1 828.8,123.4 850.8,123 872.8,123 894.8,121.9" fill="none" stroke="#c777fc" stroke-width="1.2" stroke-linejoin="round" stroke-linecap="round" stroke-opacity="0.76"/>
<circle cx="213.9" cy="422.8" r="4.5" fill="#52e852" stroke="#2a8a2a" stroke-width="0.8"/>
<text x="213.9" y="425.6" font-family="Liberation Sans, Arial, sans-serif" font-size="7" font-weight="bold" fill="#1a5a1a" text-anchor="middle">$</text>
<circle cx="476.7" cy="422.8" r="4.5" fill="#52e852" stroke="#2a8a2a" stroke-width="0.8"/>
<text x="476.7" y="425.6" font-family="Liberation Sans, Arial, sans-serif" font-size="7" font-weight="bold" fill="#1a5a1a" text-anchor="middle">$</text>
<circle cx="735" cy="422.8" r="4.5" fill="#52e852" stroke="#2a8a2a" stroke-width="0.8"/>
<text x="735" y="425.6" font-family="Liberation Sans, Arial, sans-serif" font-size="7" font-weight="bold" fill="#1a5a1a" text-anchor="middle">$</text>
</g>
<g clip-path="url(#ca)"><polyline points="0,436.6 4.4,438.1 8.8,440.2 13.2,436.1 17.6,437.6 23.4,441.4 29.3,442.9 34.4,443.9 38.4,447.3 42.5,444.6 46.1,447.3 50.5,445.4 54.9,444.6 57.8,447.9 62.2,447.3 67.3,449 71.7,450.8 79.1,451.2 83.5,444.6 87.8,443.5 92.2,444.3 95.9,447.6 100.3,444.3 104,445.5 108.3,442.4 112.7,446.1 117.1,448.2 121.5,447.6 125.9,449 130.3,450.2 133.2,451.7 137.6,449 142,452 146.4,451.7 150,450.5 154.4,451.7 158.8,455.2 163.2,457.5 166.8,457.1 170.5,456.1 175.2,458.6 179.3,456.6 183.7,459.6 188.1,453.1 192.5,449.3 196.1,445.8 200.5,443.5 204.2,442 208.6,438.3 212.2,438.8 217.3,442 221,442.9 225.4,438.3 229.1,436.6 233.5,436.6 237.8,441 242.2,444.9 245.9,445.5 251,449 254.7,449.8 258.3,453.4 262.7,454.9 267.1,458.3 270.8,460 275.2,461.9 279.6,465.4 283.2,466 287.6,464.8 291.3,464.8 295.7,467.8 300,470.3 304.4,472.2 308.8,473.6 312.4,475.7 316.4,477.6 320.5,475.4 325.2,476 329.3,471.7 333.7,471.7 337.8,474.4 342.5,470.7 346.6,469.2 350.5,469.8 354.5,465.6 358.6,469.2 362.7,472.8 367.1,471.7 371,473.3 375.4,473.5 379.8,475.4 383.5,477.1 387.8,476.1 392.2,475.7 396.6,476.9 400.7,478.3 404.7,477.1 408.3,477.7 412.7,476.4 417.1,474.7 421.5,475.1 425.9,475.7 429.6,473.9 433.5,471.7 437.6,473.6 442,475.7 446.4,476.9 450,477 454.4,478.8 458.8,478.8 463.2,480.1 467.6,478 471.2,474.7 475.6,474.7 479.3,474.7 483.7,476.6 488.1,478.3 492.5,478.3 496.9,479.5 500.5,478 504.9,479.5 508.6,481.2 513,479 516.6,482.4 521,484.2 525.4,481.5 529.1,481.5 533.5,483.4 537.8,484.5 542.2,483 545.9,482.4 550.3,484.5 554.7,485.6 559.1,484.5 562.7,486.2 567.1,486.2 571.5,488.6 575.9,489.2 580.3,489.7 583.2,489.7 588.4,484.9 592,483.9 596.4,485.9 600,487.4 604.4,483.9 608.8,484.5 613.2,481.2 617.6,481.2 621.2,479.5 625.6,479.5 629.3,476.6 633.7,477.6 638.1,478.3 642.5,477.1 646.9,476.6 650.5,475.4 654.9,475.4 658.6,474.7 663,476 666.6,474.7 671,470.7 675.4,468.8 679.8,470.4 683.5,468.1 687.8,470.7 692.2,472.8 695.9,473.2 700.3,476.6 704.7,475.4 709.1,476.6 712.7,478.3 717.1,479.8 721.5,481.2 725.2,482.7 729.6,481.7 734,480.1 738.4,482 742,482.4 746.4,479.8 750,476.6 754.4,476.9 758.8,477.6 763.2,474.7 767.6,473.9 772,472.5 775.6,471.7 779.3,472.5 783.7,469.2 788.1,469.2 792.5,469.8 796.6,463.7 800.5,463.1 804.2,463.1 808.6,465.4 813,464 817.3,462.5 821.7,462.5 825.4,461.9 829.8,460 834.2,458.1 837.8,458.1 842.2,457.1 845.9,459 850.3,457.8 854.7,457.1 859.1,456.9 862.7,457.1 867.1,458.3 870.8,458.8 875.2,455.9 879.6,455.9 884,459.9 888.4,462.9 892,465.1 896,469.2" fill="none" stroke="#c062fc" stroke-width="1.7" stroke-linejoin="round" stroke-linecap="round" /></g>
<g clip-path="url(#cr)"><polyline points="0,555.4 4.4,555.8 8.1,556.9 10.2,548.5 13.9,537.5 17.6,533.1 22,528.5 25.6,526.1 29.3,529 33.7,521.1 38.1,523.2 42.2,529.9 46.1,527.6 49.8,527 54.2,522.9 58.6,521.4 62.7,522.6 67.3,514.4 71.7,519.7 75.4,525.5 79.1,523.6 83.5,522.2 87.8,521.4 92.2,528 95.9,529 100.7,519.2 104.7,521.4 109.1,530.5 112.7,532.4 117.1,528.7 121.5,528.7 125.9,531.4 129.6,537.5 134,533.9 137.6,546 142,552.5 146.4,556.9 150,556.9 154.4,553.3 158.8,562.1 163.2,560.2 166.8,552.5 170.8,544.9 174.9,550.4 179.3,555.4 183.7,556.6 187.8,557.7 192.2,560.2 196.1,553.6 200.1,547 204.2,551 208.3,541.6 213,546.6 217.1,541.9 221.5,536.8 225.4,543.7 229.1,549.2 233.5,546.6 237.6,541.6 241.9,542.7 245.9,531.4 250.3,522.9 254.7,518.8 258.3,521.4 262.4,521.1 266.8,525.5 270.8,517.8 275.2,520 279.6,524.4 283.5,512.3 287.6,510 291.7,514.4 295.7,513.8 300,511.5 304.4,515.9 308.8,524.6 312.4,532.4 316.4,535.8 320.8,544.9 325.2,546 329.3,534.9 333.7,530.5 337.3,531.4 342.2,536.4 346.1,547 349.8,549.5 354.2,541.6 358.6,541.6 362.7,543.1 367.1,539.3 371.5,539.7 375.4,540.8 379.1,531.4 383.5,533.4 387.6,536.4 391.9,535.8 395.9,536.4 400.3,528.5 404.7,530.9 408.3,531.7 412.4,536.4 416.8,529.9 420.8,527 425.2,533.1 429.6,527.3 433.5,521.7 437.6,524.1 441.7,519.2 445.7,525.1 450,526.6 454.4,524.6 458.8,521.7 463.2,511.9 467.3,505 471.2,504.6 475.2,510.4 479.3,515.9 483.7,515.9 488.1,517.8 491.7,530.9 496.1,532.8 500.5,528 504.2,525.1 508.6,526.1 513,522.2 517.1,525.1 521.5,529.5 525.4,535.8 529.1,543.7 533.5,539.7 537.6,532 541.9,523.6 545.9,521.4 550.3,514.8 554.7,510 559.1,510.4 562.7,510 566.8,518.5 571.2,523.6 575.2,521.7 579.6,518.8 583.5,509.4 587.9,514.4 592,512.3 596.1,513.8 600,519.7 604.4,539 608.8,541.2 613.2,546.3 617.3,545.1 621.2,549.2 625.6,549.2 629.3,549.2 633.7,553.6 637.8,551.4 642.2,556.6 646.1,556.6 650.1,567.5 654.2,569 658.6,562.1 663,557.7 667.1,547.8 671.5,551.9 675.4,552.9 679.8,546.3 683.5,535.8 687.6,534.3 691.9,534.9 695.9,536.8 700.3,532.8 704.7,532 709.1,528.7 712.7,528.5 716.8,528 721.2,530.9 725.2,535.3 729.6,521.1 733.5,534.6 737.9,538.7 742,551.9 746.1,561.3 750,565.8 754.4,568.6 758.8,563.9 763.2,565.6 767.3,564.6 771.2,561.3 775.2,567.5 779.3,566.5 783.7,570 787.8,568.3 792.2,565.6 796.1,557.3 800.5,551.9 804.5,545.1 808.6,533.1 812.7,535.8 817.1,540.8 821.5,525.5 825.4,525.5 829.8,537.5 833.5,540.8 837.6,546 841.9,541.2 845.9,541.2 850.3,547 854.7,557.3 858.6,562.4 862.7,558.3 866.8,557.7 871.2,549.2 875.6,540.5 879.6,541.2 883.5,540.5 887.9,533.4 892,529.5 896,522.2" fill="none" stroke="#c062fc" stroke-width="1.7" stroke-linejoin="round" stroke-linecap="round" /></g>
<g clip-path="url(#cd)" shape-rendering="crispEdges">
<rect x="-1.1" y="622.8" width="3" height="20.8" fill="#820000"/>
<rect x="3.06" y="622.8" width="3" height="14.1" fill="#820000"/>
<rect x="7.23" y="622.8" width="3" height="8.6" fill="#820000"/>
<rect x="11.39" y="622.3" width="3" height="0.8" fill="#00f000"/>
<rect x="15.56" y="612.4" width="3" height="10.4" fill="#00f000"/>
<rect x="19.73" y="606.3" width="3" height="16.5" fill="#00f000"/>
<rect x="23.89" y="596.9" width="3" height="25.9" fill="#00f000"/>
<rect x="28.06" y="592" width="3" height="30.8" fill="#00f000"/>
<rect x="32.22" y="588.8" width="3" height="34" fill="#00f000"/>
<rect x="36.39" y="585.9" width="3" height="36.9" fill="#00f000"/>
<rect x="40.56" y="587.6" width="3" height="35.2" fill="#005e00"/>
<rect x="44.72" y="591" width="3" height="31.8" fill="#005e00"/>
<rect x="48.89" y="590" width="3" height="32.8" fill="#00f000"/>
<rect x="53.05" y="588.3" width="3" height="34.5" fill="#00f000"/>
<rect x="57.22" y="585.9" width="3" height="36.9" fill="#00f000"/>
<rect x="61.39" y="590" width="3" height="32.8" fill="#005e00"/>
<rect x="65.55" y="594.4" width="3" height="28.4" fill="#005e00"/>
<rect x="69.72" y="599" width="3" height="23.8" fill="#005e00"/>
<rect x="73.88" y="605" width="3" height="17.8" fill="#005e00"/>
<rect x="78.05" y="611" width="3" height="11.8" fill="#005e00"/>
<rect x="82.22" y="617.3" width="3" height="5.5" fill="#005e00"/>
<rect x="86.38" y="618.9" width="3" height="3.9" fill="#005e00"/>
<rect x="90.55" y="618.2" width="3" height="4.6" fill="#00f000"/>
<rect x="94.71" y="616.1" width="3" height="6.7" fill="#00f000"/>
<rect x="98.88" y="615.1" width="3" height="7.7" fill="#00f000"/>
<rect x="103.05" y="618.2" width="3" height="4.6" fill="#005e00"/>
<rect x="107.21" y="621" width="3" height="1.8" fill="#005e00"/>
<rect x="111.38" y="622.8" width="3" height="1" fill="#ff0000"/>
<rect x="115.54" y="622.8" width="3" height="5.2" fill="#ff0000"/>
<rect x="119.71" y="622.8" width="3" height="7.6" fill="#ff0000"/>
<rect x="123.88" y="622.8" width="3" height="6.4" fill="#820000"/>
<rect x="128.04" y="622.8" width="3" height="8.9" fill="#ff0000"/>
<rect x="132.21" y="622.8" width="3" height="11.9" fill="#ff0000"/>
<rect x="136.37" y="622.8" width="3" height="19" fill="#ff0000"/>
<rect x="140.54" y="622.8" width="3" height="23.5" fill="#ff0000"/>
<rect x="144.71" y="622.8" width="3" height="24.8" fill="#ff0000"/>
<rect x="148.87" y="622.8" width="3" height="31.2" fill="#ff0000"/>
<rect x="153.04" y="622.8" width="3" height="34.9" fill="#ff0000"/>
<rect x="157.2" y="622.8" width="3" height="34.1" fill="#820000"/>
<rect x="161.37" y="622.8" width="3" height="32.5" fill="#820000"/>
<rect x="165.54" y="622.8" width="3" height="32.5" fill="#820000"/>
<rect x="169.7" y="622.8" width="3" height="30.6" fill="#820000"/>
<rect x="173.87" y="622.8" width="3" height="27.9" fill="#820000"/>
<rect x="178.03" y="622.8" width="3" height="25.1" fill="#820000"/>
<rect x="182.2" y="622.8" width="3" height="22.1" fill="#820000"/>
<rect x="186.37" y="622.8" width="3" height="17.2" fill="#820000"/>
<rect x="190.53" y="622.8" width="3" height="12.9" fill="#820000"/>
<rect x="194.7" y="622.8" width="3" height="9.6" fill="#820000"/>
<rect x="198.86" y="622.8" width="3" height="3.7" fill="#820000"/>
<rect x="203.03" y="622.8" width="3" height="0.9" fill="#820000"/>
<rect x="207.2" y="618.6" width="3" height="4.2" fill="#00f000"/>
<rect x="211.36" y="616.1" width="3" height="6.7" fill="#00f000"/>
<rect x="215.53" y="615.5" width="3" height="7.3" fill="#00f000"/>
<rect x="219.69" y="617.3" width="3" height="5.5" fill="#005e00"/>
<rect x="223.86" y="619.8" width="3" height="3" fill="#005e00"/>
<rect x="228.03" y="618.6" width="3" height="4.2" fill="#00f000"/>
<rect x="232.19" y="617.3" width="3" height="5.5" fill="#00f000"/>
<rect x="236.36" y="613" width="3" height="9.8" fill="#00f000"/>
<rect x="240.52" y="607.9" width="3" height="14.9" fill="#00f000"/>
<rect x="244.69" y="602.3" width="3" height="20.5" fill="#00f000"/>
<rect x="248.86" y="600.2" width="3" height="22.6" fill="#00f000"/>
<rect x="253.02" y="595.7" width="3" height="27.1" fill="#00f000"/>
<rect x="257.19" y="594.9" width="3" height="27.9" fill="#00f000"/>
<rect x="261.35" y="594.1" width="3" height="28.7" fill="#00f000"/>
<rect x="265.52" y="594.9" width="3" height="27.9" fill="#005e00"/>
<rect x="269.69" y="599.7" width="3" height="23.1" fill="#005e00"/>
<rect x="273.85" y="599" width="3" height="23.8" fill="#00f000"/>
<rect x="278.02" y="598.1" width="3" height="24.7" fill="#00f000"/>
<rect x="282.18" y="598.1" width="3" height="24.7" fill="#005e00"/>
<rect x="286.35" y="598.6" width="3" height="24.2" fill="#005e00"/>
<rect x="290.52" y="598.1" width="3" height="24.7" fill="#00f000"/>
<rect x="294.68" y="602.3" width="3" height="20.5" fill="#005e00"/>
<rect x="298.85" y="608.2" width="3" height="14.6" fill="#005e00"/>
<rect x="303.01" y="616.7" width="3" height="6.1" fill="#005e00"/>
<rect x="307.18" y="622.8" width="3" height="1.5" fill="#ff0000"/>
<rect x="311.35" y="622.8" width="3" height="6.8" fill="#ff0000"/>
<rect x="315.51" y="622.8" width="3" height="9.6" fill="#ff0000"/>
<rect x="319.68" y="622.8" width="3" height="14.1" fill="#ff0000"/>
<rect x="323.84" y="622.8" width="3" height="17.8" fill="#ff0000"/>
<rect x="328.01" y="622.8" width="3" height="16.9" fill="#820000"/>
<rect x="332.18" y="622.8" width="3" height="14.7" fill="#820000"/>
<rect x="336.34" y="622.8" width="3" height="15.3" fill="#ff0000"/>
<rect x="340.51" y="622.8" width="3" height="16" fill="#ff0000"/>
<rect x="344.67" y="622.8" width="3" height="18.6" fill="#ff0000"/>
<rect x="348.84" y="622.8" width="3" height="21.5" fill="#ff0000"/>
<rect x="353.01" y="622.8" width="3" height="20.8" fill="#820000"/>
<rect x="357.17" y="622.8" width="3" height="18.4" fill="#820000"/>
<rect x="361.34" y="622.8" width="3" height="15.3" fill="#820000"/>
<rect x="365.5" y="622.8" width="3" height="12.5" fill="#820000"/>
<rect x="369.67" y="622.8" width="3" height="6.4" fill="#820000"/>
<rect x="373.84" y="622.8" width="3" height="1" fill="#820000"/>
<rect x="378" y="622.2" width="3" height="0.8" fill="#00f000"/>
<rect x="382.17" y="622.8" width="3" height="1.5" fill="#ff0000"/>
<rect x="386.33" y="622.8" width="3" height="2.2" fill="#ff0000"/>
<rect x="390.5" y="622.8" width="3" height="0.8" fill="#820000"/>
<rect x="394.67" y="619.2" width="3" height="3.6" fill="#00f000"/>
<rect x="398.83" y="614.3" width="3" height="8.5" fill="#00f000"/>
<rect x="403" y="615.3" width="3" height="7.5" fill="#005e00"/>
<rect x="407.16" y="616.1" width="3" height="6.7" fill="#005e00"/>
<rect x="411.33" y="614.9" width="3" height="7.9" fill="#00f000"/>
<rect x="415.5" y="614.3" width="3" height="8.5" fill="#00f000"/>
<rect x="419.66" y="614.3" width="3" height="8.5" fill="#00f000"/>
<rect x="423.83" y="614.3" width="3" height="8.5" fill="#005e00"/>
<rect x="427.99" y="616.1" width="3" height="6.7" fill="#005e00"/>
<rect x="432.16" y="614.3" width="3" height="8.5" fill="#00f000"/>
<rect x="436.33" y="613" width="3" height="9.8" fill="#00f000"/>
<rect x="440.49" y="613" width="3" height="9.8" fill="#005e00"/>
<rect x="444.66" y="613.7" width="3" height="9.1" fill="#005e00"/>
<rect x="448.82" y="614.9" width="3" height="7.9" fill="#005e00"/>
<rect x="452.99" y="613.7" width="3" height="9.1" fill="#00f000"/>
<rect x="457.16" y="610.6" width="3" height="12.2" fill="#00f000"/>
<rect x="461.32" y="607.9" width="3" height="14.9" fill="#00f000"/>
<rect x="465.49" y="607.9" width="3" height="14.9" fill="#00f000"/>
<rect x="469.65" y="606.9" width="3" height="15.9" fill="#00f000"/>
<rect x="473.82" y="605.1" width="3" height="17.7" fill="#00f000"/>
<rect x="477.99" y="606.3" width="3" height="16.5" fill="#005e00"/>
<rect x="482.15" y="612.1" width="3" height="10.7" fill="#005e00"/>
<rect x="486.32" y="616.1" width="3" height="6.7" fill="#005e00"/>
<rect x="490.48" y="621.6" width="3" height="1.2" fill="#005e00"/>
<rect x="494.65" y="622.8" width="3" height="1.5" fill="#ff0000"/>
<rect x="498.82" y="622.8" width="3" height="2.7" fill="#ff0000"/>
<rect x="502.98" y="622.8" width="3" height="4" fill="#ff0000"/>
<rect x="507.15" y="622.8" width="3" height="6.4" fill="#ff0000"/>
<rect x="511.31" y="622.8" width="3" height="8.9" fill="#ff0000"/>
<rect x="515.48" y="622.8" width="3" height="11.1" fill="#ff0000"/>
<rect x="519.65" y="622.8" width="3" height="14.7" fill="#ff0000"/>
<rect x="523.81" y="622.8" width="3" height="17.2" fill="#ff0000"/>
<rect x="527.98" y="622.8" width="3" height="17.8" fill="#ff0000"/>
<rect x="532.14" y="622.8" width="3" height="17.2" fill="#820000"/>
<rect x="536.31" y="622.8" width="3" height="15.7" fill="#820000"/>
<rect x="540.48" y="622.8" width="3" height="10.1" fill="#820000"/>
<rect x="544.64" y="622.8" width="3" height="2.7" fill="#820000"/>
<rect x="548.81" y="621.6" width="3" height="1.2" fill="#00f000"/>
<rect x="552.97" y="618.9" width="3" height="3.9" fill="#00f000"/>
<rect x="557.14" y="616.1" width="3" height="6.7" fill="#00f000"/>
<rect x="561.31" y="616.1" width="3" height="6.7" fill="#005e00"/>
<rect x="565.47" y="617.3" width="3" height="5.5" fill="#005e00"/>
<rect x="569.64" y="618.2" width="3" height="4.6" fill="#005e00"/>
<rect x="573.8" y="616.1" width="3" height="6.7" fill="#00f000"/>
<rect x="577.97" y="612.4" width="3" height="10.4" fill="#00f000"/>
<rect x="582.14" y="610" width="3" height="12.8" fill="#00f000"/>
<rect x="586.3" y="610.6" width="3" height="12.2" fill="#005e00"/>
<rect x="590.47" y="612.4" width="3" height="10.4" fill="#005e00"/>
<rect x="594.63" y="615.5" width="3" height="7.3" fill="#005e00"/>
<rect x="598.8" y="619.2" width="3" height="3.6" fill="#005e00"/>
<rect x="602.97" y="622.8" width="3" height="2.7" fill="#ff0000"/>
<rect x="607.13" y="622.8" width="3" height="9.6" fill="#ff0000"/>
<rect x="611.3" y="622.8" width="3" height="16" fill="#ff0000"/>
<rect x="615.46" y="622.8" width="3" height="18.4" fill="#ff0000"/>
<rect x="619.63" y="622.8" width="3" height="18.4" fill="#ff0000"/>
<rect x="623.8" y="622.8" width="3" height="20.2" fill="#ff0000"/>
<rect x="627.96" y="622.8" width="3" height="21.5" fill="#ff0000"/>
<rect x="632.13" y="622.8" width="3" height="23.9" fill="#ff0000"/>
<rect x="636.29" y="622.8" width="3" height="23.3" fill="#820000"/>
<rect x="640.46" y="622.8" width="3" height="26.4" fill="#ff0000"/>
<rect x="644.63" y="622.8" width="3" height="29.4" fill="#ff0000"/>
<rect x="648.79" y="622.8" width="3" height="31.6" fill="#ff0000"/>
<rect x="652.96" y="622.8" width="3" height="29.4" fill="#820000"/>
<rect x="657.12" y="622.8" width="3" height="25.7" fill="#820000"/>
<rect x="661.29" y="622.8" width="3" height="21.5" fill="#820000"/>
<rect x="665.46" y="622.8" width="3" height="17.2" fill="#820000"/>
<rect x="669.62" y="622.8" width="3" height="14.1" fill="#820000"/>
<rect x="673.79" y="622.8" width="3" height="9.6" fill="#820000"/>
<rect x="677.95" y="622.8" width="3" height="4.9" fill="#820000"/>
<rect x="682.12" y="622.2" width="3" height="0.8" fill="#00f000"/>
<rect x="686.29" y="618.9" width="3" height="3.9" fill="#00f000"/>
<rect x="690.45" y="614.3" width="3" height="8.5" fill="#00f000"/>
<rect x="694.62" y="608.8" width="3" height="14" fill="#00f000"/>
<rect x="698.78" y="601.4" width="3" height="21.4" fill="#00f000"/>
<rect x="702.95" y="596.9" width="3" height="25.9" fill="#00f000"/>
<rect x="707.12" y="595.3" width="3" height="27.5" fill="#00f000"/>
<rect x="711.28" y="595.3" width="3" height="27.5" fill="#005e00"/>
<rect x="715.45" y="598.1" width="3" height="24.7" fill="#005e00"/>
<rect x="719.61" y="598.6" width="3" height="24.2" fill="#005e00"/>
<rect x="723.78" y="600.2" width="3" height="22.6" fill="#005e00"/>
<rect x="727.95" y="603" width="3" height="19.8" fill="#005e00"/>
<rect x="732.11" y="610.8" width="3" height="12" fill="#005e00"/>
<rect x="736.28" y="618.2" width="3" height="4.6" fill="#005e00"/>
<rect x="740.44" y="622.8" width="3" height="1" fill="#ff0000"/>
<rect x="744.61" y="622.8" width="3" height="6.4" fill="#ff0000"/>
<rect x="748.78" y="622.8" width="3" height="12.9" fill="#ff0000"/>
<rect x="752.94" y="622.8" width="3" height="18.4" fill="#ff0000"/>
<rect x="757.11" y="622.8" width="3" height="21.5" fill="#ff0000"/>
<rect x="761.27" y="622.8" width="3" height="25.7" fill="#ff0000"/>
<rect x="765.44" y="622.8" width="3" height="29.4" fill="#ff0000"/>
<rect x="769.61" y="622.8" width="3" height="30.6" fill="#ff0000"/>
<rect x="773.77" y="622.8" width="3" height="30.6" fill="#ff0000"/>
<rect x="777.94" y="622.8" width="3" height="32.8" fill="#ff0000"/>
<rect x="782.1" y="622.8" width="3" height="32.8" fill="#820000"/>
<rect x="786.27" y="622.8" width="3" height="30.9" fill="#820000"/>
<rect x="790.44" y="622.8" width="3" height="27.9" fill="#820000"/>
<rect x="794.6" y="622.8" width="3" height="20.6" fill="#820000"/>
<rect x="798.77" y="622.8" width="3" height="9.8" fill="#820000"/>
<rect x="802.93" y="622.2" width="3" height="0.8" fill="#00f000"/>
<rect x="807.1" y="614.9" width="3" height="7.9" fill="#00f000"/>
<rect x="811.27" y="606.9" width="3" height="15.9" fill="#00f000"/>
<rect x="815.43" y="602.3" width="3" height="20.5" fill="#00f000"/>
<rect x="819.6" y="598.4" width="3" height="24.4" fill="#00f000"/>
<rect x="823.76" y="594.9" width="3" height="27.9" fill="#00f000"/>
<rect x="827.93" y="594.9" width="3" height="27.9" fill="#005e00"/>
<rect x="832.1" y="594.1" width="3" height="28.7" fill="#00f000"/>
<rect x="836.26" y="594.9" width="3" height="27.9" fill="#005e00"/>
<rect x="840.43" y="598.1" width="3" height="24.7" fill="#005e00"/>
<rect x="844.59" y="602.3" width="3" height="20.5" fill="#005e00"/>
<rect x="848.76" y="609.4" width="3" height="13.4" fill="#005e00"/>
<rect x="852.93" y="618.9" width="3" height="3.9" fill="#005e00"/>
<rect x="857.09" y="622.8" width="3" height="6.8" fill="#ff0000"/>
<rect x="861.26" y="622.8" width="3" height="13.7" fill="#ff0000"/>
<rect x="865.42" y="622.8" width="3" height="17.2" fill="#ff0000"/>
<rect x="869.59" y="622.8" width="3" height="21.5" fill="#ff0000"/>
<rect x="873.76" y="622.8" width="3" height="22.1" fill="#ff0000"/>
<rect x="877.92" y="622.8" width="3" height="17.2" fill="#820000"/>
<rect x="882.09" y="622.8" width="3" height="9.8" fill="#820000"/>
<rect x="886.25" y="622.8" width="3" height="0.8" fill="#820000"/>
<rect x="890.42" y="616.1" width="3" height="6.7" fill="#00f000"/>
<rect x="894.59" y="611.2" width="3" height="11.6" fill="#00f000"/>
</g>
<line x1="0" y1="622.8" x2="11.03" y2="622.8" stroke="#e79be7" stroke-width="1"/>
<line x1="110.58" y1="622.8" x2="206.83" y2="622.8" stroke="#e79be7" stroke-width="1"/>
<line x1="306.38" y1="622.8" x2="377.64" y2="622.8" stroke="#e79be7" stroke-width="1"/>
<line x1="381.37" y1="622.8" x2="394.3" y2="622.8" stroke="#e79be7" stroke-width="1"/>
<line x1="493.85" y1="622.8" x2="548.44" y2="622.8" stroke="#e79be7" stroke-width="1"/>
<line x1="602.17" y1="622.8" x2="681.75" y2="622.8" stroke="#e79be7" stroke-width="1"/>
<line x1="739.64" y1="622.8" x2="802.57" y2="622.8" stroke="#e79be7" stroke-width="1"/>
<line x1="856.29" y1="622.8" x2="890.05" y2="622.8" stroke="#e79be7" stroke-width="1"/>
<rect x="0" y="0" width="20" height="23" fill="rgba(229,229,223,0.82)"/>
<text x="5" y="14.6" font-family="Liberation Sans, Arial, sans-serif" font-size="8" font-weight="bold" fill="#555">&gt;</text>
<rect x="0" y="430.6" width="57" height="57.2" fill="rgba(229,229,223,0.72)"/>
<rect x="0" y="499" width="91.5" height="77" fill="rgba(229,229,223,0.72)"/>
<rect x="0" y="579.4" width="88.5" height="82.3" fill="rgba(229,229,223,0.72)"/>
<text x="41.8" y="444.1" font-family="Liberation Sans, Arial, sans-serif" font-size="8" font-weight="bold" fill="#444" text-anchor="start"  textLength="4.11" lengthAdjust="spacingAndGlyphs">&lt;</text>
<text x="7" y="464.5" font-family="Liberation Sans, Arial, sans-serif" font-size="8.3" fill="#f3f3ef" stroke="#f3f3ef" stroke-width="1.8" stroke-linejoin="round" text-anchor="start" textLength="14.47" lengthAdjust="spacingAndGlyphs">ATR</text>
<text x="7" y="464.5" font-family="Liberation Sans, Arial, sans-serif" font-size="8.3" fill="#363636" stroke="#363636" stroke-width="0.22" text-anchor="start" textLength="14.47" lengthAdjust="spacingAndGlyphs">ATR</text>
<text x="7" y="478.5" font-family="Liberation Sans, Arial, sans-serif" font-size="8.3" fill="#f3f3ef" stroke="#f3f3ef" stroke-width="1.8" stroke-linejoin="round" text-anchor="start" textLength="14.47" lengthAdjust="spacingAndGlyphs">ATR</text>
<text x="7" y="478.5" font-family="Liberation Sans, Arial, sans-serif" font-size="8.3" fill="#363636" stroke="#363636" stroke-width="0.22" text-anchor="start" textLength="14.47" lengthAdjust="spacingAndGlyphs">ATR</text>
<text x="27.6" y="478.5" font-family="Liberation Sans, Arial, sans-serif" font-size="8.3" font-weight="normal" fill="#c060ff" text-anchor="start"  textLength="14.21" lengthAdjust="spacingAndGlyphs">5.54</text>
<text x="76.6" y="512.9" font-family="Liberation Sans, Arial, sans-serif" font-size="8" font-weight="bold" fill="#444" text-anchor="start"  textLength="4.11" lengthAdjust="spacingAndGlyphs">&lt;</text>
<text x="7.8" y="533.1" font-family="Liberation Sans, Arial, sans-serif" font-size="8.3" fill="#f3f3ef" stroke="#f3f3ef" stroke-width="1.8" stroke-linejoin="round" text-anchor="start" textLength="12.52" lengthAdjust="spacingAndGlyphs">RSI</text>
<text x="7.8" y="533.1" font-family="Liberation Sans, Arial, sans-serif" font-size="8.3" fill="#363636" stroke="#363636" stroke-width="0.22" text-anchor="start" textLength="12.52" lengthAdjust="spacingAndGlyphs">RSI</text>
<text x="7.8" y="547.3" font-family="Liberation Sans, Arial, sans-serif" font-size="8.3" fill="#f3f3ef" stroke="#f3f3ef" stroke-width="1.8" stroke-linejoin="round" text-anchor="start" textLength="12.52" lengthAdjust="spacingAndGlyphs">RSI</text>
<text x="7.8" y="547.3" font-family="Liberation Sans, Arial, sans-serif" font-size="8.3" fill="#363636" stroke="#363636" stroke-width="0.22" text-anchor="start" textLength="12.52" lengthAdjust="spacingAndGlyphs">RSI</text>
<text x="76.4" y="547.3" font-family="Liberation Sans, Arial, sans-serif" font-size="8.3" font-weight="normal" fill="#c060ff" text-anchor="end"  textLength="18.28" lengthAdjust="spacingAndGlyphs">39.08</text>
<text x="7.8" y="560.4" font-family="Liberation Sans, Arial, sans-serif" font-size="8.3" fill="#f3f3ef" stroke="#f3f3ef" stroke-width="1.8" stroke-linejoin="round" text-anchor="start" textLength="33.4" lengthAdjust="spacingAndGlyphs">Over Sold</text>
<text x="7.8" y="560.4" font-family="Liberation Sans, Arial, sans-serif" font-size="8.3" fill="#363636" stroke="#363636" stroke-width="0.22" text-anchor="start" textLength="33.4" lengthAdjust="spacingAndGlyphs">Over Sold</text>
<text x="76.4" y="560.4" font-family="Liberation Sans, Arial, sans-serif" font-size="8.3" font-weight="normal" fill="#d9ebf8" text-anchor="end"  textLength="18.28" lengthAdjust="spacingAndGlyphs">30.00</text>
<text x="7.8" y="571.9" font-family="Liberation Sans, Arial, sans-serif" font-size="8.3" fill="#f3f3ef" stroke="#f3f3ef" stroke-width="1.8" stroke-linejoin="round" text-anchor="start" textLength="42.17" lengthAdjust="spacingAndGlyphs">Over Bought</text>
<text x="7.8" y="571.9" font-family="Liberation Sans, Arial, sans-serif" font-size="8.3" fill="#363636" stroke="#363636" stroke-width="0.22" text-anchor="start" textLength="42.17" lengthAdjust="spacingAndGlyphs">Over Bought</text>
<text x="76.4" y="571.9" font-family="Liberation Sans, Arial, sans-serif" font-size="8.3" font-weight="normal" fill="#d9ebf8" text-anchor="end"  textLength="18.28" lengthAdjust="spacingAndGlyphs">70.00</text>
<rect x="76.4" y="522" width="9.4" height="9" fill="#d9d9d9" stroke="#8a8a8a" stroke-width="0.7"/>
<text x="81.1" y="528.3" font-family="Liberation Sans, Arial, sans-serif" font-size="5" fill="#555" text-anchor="middle">&#9650;</text>
<rect x="76.7" y="531" width="8.8" height="22" fill="#7e7e7e"/>
<rect x="76.7" y="553" width="8.8" height="12" fill="#c9c9c9"/>
<rect x="76.4" y="565" width="9.4" height="9.7" fill="#d9d9d9" stroke="#8a8a8a" stroke-width="0.7"/>
<text x="81.1" y="571.65" font-family="Liberation Sans, Arial, sans-serif" font-size="5" fill="#555" text-anchor="middle">&#9660;</text>
<text x="73.6" y="593.2" font-family="Liberation Sans, Arial, sans-serif" font-size="8" font-weight="bold" fill="#444" text-anchor="start"  textLength="4.11" lengthAdjust="spacingAndGlyphs">&lt;</text>
<text x="7.8" y="613.5" font-family="Liberation Sans, Arial, sans-serif" font-size="8.3" fill="#f3f3ef" stroke="#f3f3ef" stroke-width="1.8" stroke-linejoin="round" text-anchor="start" textLength="22.12" lengthAdjust="spacingAndGlyphs">MACD</text>
<text x="7.8" y="613.5" font-family="Liberation Sans, Arial, sans-serif" font-size="8.3" fill="#363636" stroke="#363636" stroke-width="0.22" text-anchor="start" textLength="22.12" lengthAdjust="spacingAndGlyphs">MACD</text>
<text x="7.8" y="627.7" font-family="Liberation Sans, Arial, sans-serif" font-size="8.3" fill="#f3f3ef" stroke="#f3f3ef" stroke-width="1.8" stroke-linejoin="round" text-anchor="start" textLength="18.65" lengthAdjust="spacingAndGlyphs">Value</text>
<text x="7.8" y="627.7" font-family="Liberation Sans, Arial, sans-serif" font-size="8.3" fill="#363636" stroke="#363636" stroke-width="0.22" text-anchor="start" textLength="18.65" lengthAdjust="spacingAndGlyphs">Value</text>
<text x="73.5" y="627.7" font-family="Liberation Sans, Arial, sans-serif" font-size="8.3" font-weight="normal" fill="#33e0f0" text-anchor="end"  textLength="16.65" lengthAdjust="spacingAndGlyphs">-4.47</text>
<text x="7.8" y="640.9" font-family="Liberation Sans, Arial, sans-serif" font-size="8.3" fill="#f3f3ef" stroke="#f3f3ef" stroke-width="1.8" stroke-linejoin="round" text-anchor="start" textLength="12.81" lengthAdjust="spacingAndGlyphs">Avg</text>
<text x="7.8" y="640.9" font-family="Liberation Sans, Arial, sans-serif" font-size="8.3" fill="#363636" stroke="#363636" stroke-width="0.22" text-anchor="start" textLength="12.81" lengthAdjust="spacingAndGlyphs">Avg</text>
<text x="73.5" y="640.9" font-family="Liberation Sans, Arial, sans-serif" font-size="8.3" font-weight="normal" fill="#f3e2a8" text-anchor="end"  textLength="16.65" lengthAdjust="spacingAndGlyphs">-1.45</text>
<text x="7.8" y="653.2" font-family="Liberation Sans, Arial, sans-serif" font-size="8.3" fill="#f3f3ef" stroke="#f3f3ef" stroke-width="1.8" stroke-linejoin="round" text-anchor="start" textLength="11.13" lengthAdjust="spacingAndGlyphs">Diff</text>
<text x="7.8" y="653.2" font-family="Liberation Sans, Arial, sans-serif" font-size="8.3" fill="#363636" stroke="#363636" stroke-width="0.22" text-anchor="start" textLength="11.13" lengthAdjust="spacingAndGlyphs">Diff</text>
<text x="73.5" y="653.2" font-family="Liberation Sans, Arial, sans-serif" font-size="8.3" font-weight="normal" fill="#38d0d8" text-anchor="end"  textLength="16.65" lengthAdjust="spacingAndGlyphs">-3.02</text>
<g clip-path="url(#cml)">
<text x="8.6" y="662.6" font-family="Liberation Sans, Arial, sans-serif" font-size="4.2" font-weight="normal" fill="#333" text-anchor="start"  >&#9664;</text>
<text x="25" y="662.8" font-family="Liberation Sans, Arial, sans-serif" font-size="4.6" font-weight="normal" fill="#333" text-anchor="start"  >&#9656;</text>
<text x="71" y="665.2" font-family="Liberation Sans, Arial, sans-serif" font-size="8.3" font-weight="normal" fill="#e070f0" text-anchor="end"  textLength="14.21" lengthAdjust="spacingAndGlyphs">0.00</text>
</g>
<rect x="73.5" y="602" width="8.9" height="10" fill="#d9d9d9" stroke="#8a8a8a" stroke-width="0.7"/>
<text x="77.95" y="608.8" font-family="Liberation Sans, Arial, sans-serif" font-size="5" fill="#555" text-anchor="middle">&#9650;</text>
<rect x="73.8" y="612" width="8.3" height="25" fill="#7e7e7e"/>
<rect x="73.8" y="637" width="8.3" height="15" fill="#c9c9c9"/>
<rect x="73.5" y="652" width="8.9" height="9.8" fill="#d9d9d9" stroke="#8a8a8a" stroke-width="0.7"/>
<text x="77.95" y="658.7" font-family="Liberation Sans, Arial, sans-serif" font-size="5" fill="#555" text-anchor="middle">&#9660;</text>
<rect x="0" y="428" width="1024" height="2" fill="#6a6a6a"/>
<rect x="0" y="497" width="1024" height="1.6" fill="#646464"/>
<rect x="0" y="577" width="1024" height="1.6" fill="#646464"/>
<line x1="998.5" y1="1" x2="998.5" y2="663" stroke="#8e8e8e" stroke-width="1.1"/>
<line x1="998.5" y1="579" x2="998.5" y2="663.5" stroke="#8c8cb4" stroke-width="1"/>
<line x1="996.5" y1="17.6" x2="998" y2="17.6" stroke="#b4b4b4" stroke-width="1"/>
<text x="1000.8" y="20.55" font-family="Liberation Sans, Arial, sans-serif" font-size="8.2" fill="#505050" textLength="12.3" lengthAdjust="spacingAndGlyphs">490</text>
<line x1="996.5" y1="39.77" x2="998" y2="39.77" stroke="#b4b4b4" stroke-width="1"/>
<text x="1000.8" y="42.72" font-family="Liberation Sans, Arial, sans-serif" font-size="8.2" fill="#505050" textLength="12.3" lengthAdjust="spacingAndGlyphs">480</text>
<line x1="996.5" y1="61.94" x2="998" y2="61.94" stroke="#b4b4b4" stroke-width="1"/>
<text x="1000.8" y="64.89" font-family="Liberation Sans, Arial, sans-serif" font-size="8.2" fill="#505050" textLength="12.3" lengthAdjust="spacingAndGlyphs">470</text>
<line x1="996.5" y1="84.11" x2="998" y2="84.11" stroke="#b4b4b4" stroke-width="1"/>
<text x="1000.8" y="87.06" font-family="Liberation Sans, Arial, sans-serif" font-size="8.2" fill="#505050" textLength="12.3" lengthAdjust="spacingAndGlyphs">460</text>
<line x1="996.5" y1="106.28" x2="998" y2="106.28" stroke="#b4b4b4" stroke-width="1"/>
<text x="1000.8" y="109.23" font-family="Liberation Sans, Arial, sans-serif" font-size="8.2" fill="#505050" textLength="12.3" lengthAdjust="spacingAndGlyphs">450</text>
<line x1="996.5" y1="128.45" x2="998" y2="128.45" stroke="#b4b4b4" stroke-width="1"/>
<text x="1000.8" y="131.4" font-family="Liberation Sans, Arial, sans-serif" font-size="8.2" fill="#505050" textLength="12.3" lengthAdjust="spacingAndGlyphs">440</text>
<line x1="996.5" y1="150.62" x2="998" y2="150.62" stroke="#b4b4b4" stroke-width="1"/>
<text x="1000.8" y="153.57" font-family="Liberation Sans, Arial, sans-serif" font-size="8.2" fill="#505050" textLength="12.3" lengthAdjust="spacingAndGlyphs">430</text>
<line x1="996.5" y1="172.79" x2="998" y2="172.79" stroke="#b4b4b4" stroke-width="1"/>
<text x="1000.8" y="175.74" font-family="Liberation Sans, Arial, sans-serif" font-size="8.2" fill="#505050" textLength="12.3" lengthAdjust="spacingAndGlyphs">420</text>
<line x1="996.5" y1="194.96" x2="998" y2="194.96" stroke="#b4b4b4" stroke-width="1"/>
<text x="1000.8" y="197.91" font-family="Liberation Sans, Arial, sans-serif" font-size="8.2" fill="#505050" textLength="12.3" lengthAdjust="spacingAndGlyphs">410</text>
<line x1="996.5" y1="217.13" x2="998" y2="217.13" stroke="#b4b4b4" stroke-width="1"/>
<text x="1000.8" y="220.08" font-family="Liberation Sans, Arial, sans-serif" font-size="8.2" fill="#505050" textLength="12.3" lengthAdjust="spacingAndGlyphs">400</text>
<line x1="996.5" y1="239.3" x2="998" y2="239.3" stroke="#b4b4b4" stroke-width="1"/>
<text x="1000.8" y="242.25" font-family="Liberation Sans, Arial, sans-serif" font-size="8.2" fill="#505050" textLength="12.3" lengthAdjust="spacingAndGlyphs">390</text>
<line x1="996.5" y1="261.47" x2="998" y2="261.47" stroke="#b4b4b4" stroke-width="1"/>
<text x="1000.8" y="264.42" font-family="Liberation Sans, Arial, sans-serif" font-size="8.2" fill="#505050" textLength="12.3" lengthAdjust="spacingAndGlyphs">380</text>
<line x1="996.5" y1="283.64" x2="998" y2="283.64" stroke="#b4b4b4" stroke-width="1"/>
<text x="1000.8" y="286.59" font-family="Liberation Sans, Arial, sans-serif" font-size="8.2" fill="#505050" textLength="12.3" lengthAdjust="spacingAndGlyphs">370</text>
<line x1="996.5" y1="305.81" x2="998" y2="305.81" stroke="#b4b4b4" stroke-width="1"/>
<text x="1000.8" y="308.76" font-family="Liberation Sans, Arial, sans-serif" font-size="8.2" fill="#505050" textLength="12.3" lengthAdjust="spacingAndGlyphs">360</text>
<line x1="996.5" y1="327.98" x2="998" y2="327.98" stroke="#b4b4b4" stroke-width="1"/>
<text x="1000.8" y="330.93" font-family="Liberation Sans, Arial, sans-serif" font-size="8.2" fill="#505050" textLength="12.3" lengthAdjust="spacingAndGlyphs">350</text>
<line x1="996.5" y1="350.15" x2="998" y2="350.15" stroke="#b4b4b4" stroke-width="1"/>
<text x="1000.8" y="353.1" font-family="Liberation Sans, Arial, sans-serif" font-size="8.2" fill="#505050" textLength="12.3" lengthAdjust="spacingAndGlyphs">340</text>
<line x1="996.5" y1="372.32" x2="998" y2="372.32" stroke="#b4b4b4" stroke-width="1"/>
<text x="1000.8" y="375.27" font-family="Liberation Sans, Arial, sans-serif" font-size="8.2" fill="#505050" textLength="12.3" lengthAdjust="spacingAndGlyphs">330</text>
<line x1="996.5" y1="394.49" x2="998" y2="394.49" stroke="#b4b4b4" stroke-width="1"/>
<text x="1000.8" y="397.44" font-family="Liberation Sans, Arial, sans-serif" font-size="8.2" fill="#505050" textLength="12.3" lengthAdjust="spacingAndGlyphs">320</text>
<line x1="996.5" y1="416.66" x2="998" y2="416.66" stroke="#b4b4b4" stroke-width="1"/>
<text x="1000.8" y="419.61" font-family="Liberation Sans, Arial, sans-serif" font-size="8.2" fill="#505050" textLength="12.3" lengthAdjust="spacingAndGlyphs">310</text>
<line x1="996.5" y1="451.6" x2="998" y2="451.6" stroke="#b4b4b4" stroke-width="1"/>
<text x="1000.8" y="454.55" font-family="Liberation Sans, Arial, sans-serif" font-size="8.2" fill="#505050" textLength="4.1" lengthAdjust="spacingAndGlyphs">6</text>
<line x1="996.5" y1="483" x2="998" y2="483" stroke="#b4b4b4" stroke-width="1"/>
<text x="1000.8" y="485.95" font-family="Liberation Sans, Arial, sans-serif" font-size="8.2" fill="#505050" textLength="4.1" lengthAdjust="spacingAndGlyphs">4</text>
<line x1="996.5" y1="511" x2="998" y2="511" stroke="#b4b4b4" stroke-width="1"/>
<text x="1000.8" y="513.95" font-family="Liberation Sans, Arial, sans-serif" font-size="8.2" fill="#505050" textLength="8.2" lengthAdjust="spacingAndGlyphs">80</text>
<line x1="996.5" y1="530.1" x2="998" y2="530.1" stroke="#b4b4b4" stroke-width="1"/>
<text x="1000.8" y="533.05" font-family="Liberation Sans, Arial, sans-serif" font-size="8.2" fill="#505050" textLength="8.2" lengthAdjust="spacingAndGlyphs">60</text>
<line x1="996.5" y1="549.3" x2="998" y2="549.3" stroke="#b4b4b4" stroke-width="1"/>
<text x="1000.8" y="552.25" font-family="Liberation Sans, Arial, sans-serif" font-size="8.2" fill="#505050" textLength="8.2" lengthAdjust="spacingAndGlyphs">40</text>
<line x1="996.5" y1="568.4" x2="998" y2="568.4" stroke="#b4b4b4" stroke-width="1"/>
<text x="1000.8" y="571.35" font-family="Liberation Sans, Arial, sans-serif" font-size="8.2" fill="#505050" textLength="8.2" lengthAdjust="spacingAndGlyphs">20</text>
<line x1="996.5" y1="587.2" x2="998" y2="587.2" stroke="#b4b4b4" stroke-width="1"/>
<text x="1000.8" y="590.15" font-family="Liberation Sans, Arial, sans-serif" font-size="8.2" fill="#505050" textLength="14.3" lengthAdjust="spacingAndGlyphs">5.00</text>
<line x1="996.5" y1="604.7" x2="998" y2="604.7" stroke="#b4b4b4" stroke-width="1"/>
<text x="1000.8" y="607.65" font-family="Liberation Sans, Arial, sans-serif" font-size="8.2" fill="#505050" textLength="14.3" lengthAdjust="spacingAndGlyphs">2.50</text>
<line x1="996.5" y1="622.5" x2="998" y2="622.5" stroke="#b4b4b4" stroke-width="1"/>
<text x="1000.8" y="625.45" font-family="Liberation Sans, Arial, sans-serif" font-size="8.2" fill="#505050" textLength="14.3" lengthAdjust="spacingAndGlyphs">0.00</text>
<line x1="996.5" y1="640.3" x2="998" y2="640.3" stroke="#b4b4b4" stroke-width="1"/>
<text x="1000.8" y="643.25" font-family="Liberation Sans, Arial, sans-serif" font-size="8.2" fill="#505050" textLength="17" lengthAdjust="spacingAndGlyphs">-2.50</text>
<line x1="996.5" y1="657.7" x2="998" y2="657.7" stroke="#b4b4b4" stroke-width="1"/>
<text x="1000.8" y="660.65" font-family="Liberation Sans, Arial, sans-serif" font-size="8.2" fill="#505050" textLength="12.9" lengthAdjust="spacingAndGlyphs">-5.0</text>
<rect x="1000" y="34.8" width="23" height="9.4" rx="2" ry="2" fill="#6900af" />
<text x="1001" y="42.2" font-family="Liberation Sans, Arial, sans-serif" font-size="7.4" fill="#2c0046" textLength="21" lengthAdjust="spacingAndGlyphs">479.93</text>
<rect x="1000" y="116.3" width="23" height="9.4" rx="2" ry="2" fill="#b650ff" />
<text x="1001" y="123.7" font-family="Liberation Sans, Arial, sans-serif" font-size="7.4" fill="#3a1555" textLength="21" lengthAdjust="spacingAndGlyphs">442.97</text>
<rect x="1000" y="128.9" width="23" height="9.4" rx="2" ry="2" fill="#0f1e2d" />
<text x="1001" y="136.3" font-family="Liberation Sans, Arial, sans-serif" font-size="7.4" fill="#1f2f40" textLength="21" lengthAdjust="spacingAndGlyphs">437.74</text>
<rect x="1000" y="139.2" width="23" height="9.4" rx="2" ry="2" fill="#e2aaff" />
<text x="1001" y="146.6" font-family="Liberation Sans, Arial, sans-serif" font-size="7.4" fill="#3a2a44" textLength="21" lengthAdjust="spacingAndGlyphs">432.95</text>
<rect x="1000" y="157" width="23" height="9.4" rx="2" ry="2" fill="#e0f0fa" />
<text x="1001" y="164.4" font-family="Liberation Sans, Arial, sans-serif" font-size="7.4" fill="#333" textLength="21" lengthAdjust="spacingAndGlyphs">424.48</text>
<rect x="1001" y="157" width="21" height="1" fill="#f5ae22"/>
<rect x="1000" y="198.7" width="23" height="9.4" rx="2" ry="2" fill="#cc55ff" />
<text x="1001" y="206.1" font-family="Liberation Sans, Arial, sans-serif" font-size="7.4" fill="#3a1555" textLength="21" lengthAdjust="spacingAndGlyphs">406.00</text>
<rect x="1000" y="280.8" width="23" height="9.4" rx="2" ry="2" fill="#5c0f9c" />
<text x="1001" y="288.2" font-family="Liberation Sans, Arial, sans-serif" font-size="7.4" fill="#2c0046" textLength="21" lengthAdjust="spacingAndGlyphs">369.04</text>
<rect x="1000" y="464.5" width="15.5" height="9.4" rx="2" ry="2" fill="#b84dff" />
<text x="1001" y="471.9" font-family="Liberation Sans, Arial, sans-serif" font-size="7.4" fill="#3a1555" textLength="13.5" lengthAdjust="spacingAndGlyphs">4.89</text>
<rect x="1000" y="517.2" width="19.2" height="9.4" rx="2" ry="2" fill="#b84dff" />
<text x="1001" y="524.6" font-family="Liberation Sans, Arial, sans-serif" font-size="7.4" fill="#3a1555" textLength="17.2" lengthAdjust="spacingAndGlyphs">68.85</text>
<rect x="1000" y="554.6" width="19.2" height="9.4" rx="2" ry="2" fill="#ddf0fa" />
<text x="1001" y="562" font-family="Liberation Sans, Arial, sans-serif" font-size="7.4" fill="#445" textLength="17.2" lengthAdjust="spacingAndGlyphs">30.00</text>
<rect x="1000" y="606.2" width="15.3" height="9.4" rx="2" ry="2" fill="#00ec00" />
<text x="1001" y="613.6" font-family="Liberation Sans, Arial, sans-serif" font-size="7.4" fill="#124" textLength="13.3" lengthAdjust="spacingAndGlyphs">1.67</text>
<rect x="1000" y="617.5" width="15.3" height="9.4" rx="2" ry="2" fill="#dd77ee" />
<text x="1001" y="624.9" font-family="Liberation Sans, Arial, sans-serif" font-size="7.4" fill="#333" textLength="13.3" lengthAdjust="spacingAndGlyphs">0.00</text>
<rect x="1000" y="632.6" width="17.2" height="9.4" rx="2" ry="2" fill="#00eeff" />
<text x="1001" y="640" font-family="Liberation Sans, Arial, sans-serif" font-size="7.4" fill="#124" textLength="15.2" lengthAdjust="spacingAndGlyphs">-2.09</text>
<rect x="1000" y="644.3" width="17.2" height="9.4" rx="2" ry="2" fill="#f9e4a8" />
<text x="1001" y="651.7" font-family="Liberation Sans, Arial, sans-serif" font-size="7.4" fill="#444" textLength="15.2" lengthAdjust="spacingAndGlyphs">-3.76</text>
<line x1="0" y1="663.5" x2="998.5" y2="663.5" stroke="#8484b4" stroke-width="1"/>
<line x1="14.5" y1="663.5" x2="14.5" y2="666.5" stroke="#8484b4" stroke-width="1"/>
<text x="14.2" y="674" font-family="Liberation Sans, Arial, sans-serif" font-size="8.4" fill="#7c7cab" textLength="20" lengthAdjust="spacingAndGlyphs">JAN 9</text>
<line x1="81.5" y1="663.5" x2="81.5" y2="666.5" stroke="#8484b4" stroke-width="1"/>
<text x="80.7" y="674" font-family="Liberation Sans, Arial, sans-serif" font-size="8.4" font-weight="bold" fill="#4d4d87" textLength="18.3" lengthAdjust="spacingAndGlyphs">FEB 1</text>
<line x1="160.5" y1="663.5" x2="160.5" y2="666.5" stroke="#8484b4" stroke-width="1"/>
<text x="159.7" y="674" font-family="Liberation Sans, Arial, sans-serif" font-size="8.4" font-weight="bold" fill="#4d4d87" textLength="19.8" lengthAdjust="spacingAndGlyphs">MAR 1</text>
<line x1="256.5" y1="663.5" x2="256.5" y2="666.5" stroke="#8484b4" stroke-width="1"/>
<text x="255.7" y="674" font-family="Liberation Sans, Arial, sans-serif" font-size="8.4" font-weight="bold" fill="#4d4d87" textLength="19.8" lengthAdjust="spacingAndGlyphs">APR 3</text>
<line x1="335.5" y1="663.5" x2="335.5" y2="666.5" stroke="#8484b4" stroke-width="1"/>
<text x="334.7" y="674" font-family="Liberation Sans, Arial, sans-serif" font-size="8.4" font-weight="bold" fill="#4d4d87" textLength="20.2" lengthAdjust="spacingAndGlyphs">MAY 1</text>
<line x1="427.5" y1="663.5" x2="427.5" y2="666.5" stroke="#8484b4" stroke-width="1"/>
<text x="426.7" y="674" font-family="Liberation Sans, Arial, sans-serif" font-size="8.4" font-weight="bold" fill="#4d4d87" textLength="18.3" lengthAdjust="spacingAndGlyphs">JUN 1</text>
<line x1="514.5" y1="663.5" x2="514.5" y2="666.5" stroke="#8484b4" stroke-width="1"/>
<text x="513.7" y="674" font-family="Liberation Sans, Arial, sans-serif" font-size="8.4" font-weight="bold" fill="#4d4d87" textLength="17.6" lengthAdjust="spacingAndGlyphs">JUL 3</text>
<line x1="598.5" y1="663.5" x2="598.5" y2="666.5" stroke="#8484b4" stroke-width="1"/>
<text x="597.7" y="674" font-family="Liberation Sans, Arial, sans-serif" font-size="8.4" font-weight="bold" fill="#4d4d87" textLength="20.2" lengthAdjust="spacingAndGlyphs">AUG 1</text>
<line x1="694.5" y1="663.5" x2="694.5" y2="666.5" stroke="#8484b4" stroke-width="1"/>
<text x="693.7" y="674" font-family="Liberation Sans, Arial, sans-serif" font-size="8.4" font-weight="bold" fill="#4d4d87" textLength="18.3" lengthAdjust="spacingAndGlyphs">SEP 1</text>
<line x1="777.5" y1="663.5" x2="777.5" y2="666.5" stroke="#8484b4" stroke-width="1"/>
<text x="776.7" y="674" font-family="Liberation Sans, Arial, sans-serif" font-size="8.4" font-weight="bold" fill="#4d4d87" textLength="20.2" lengthAdjust="spacingAndGlyphs">OCT 2</text>
<line x1="869.5" y1="663.5" x2="869.5" y2="666.5" stroke="#8484b4" stroke-width="1"/>
<text x="868.7" y="674" font-family="Liberation Sans, Arial, sans-serif" font-size="8.4" font-weight="bold" fill="#4d4d87" textLength="20.2" lengthAdjust="spacingAndGlyphs">NOV 1</text>
<line x1="969.5" y1="663.5" x2="969.5" y2="666.5" stroke="#8484b4" stroke-width="1"/>
<text x="968.7" y="674" font-family="Liberation Sans, Arial, sans-serif" font-size="8.4" font-weight="bold" fill="#4d4d87" textLength="19.2" lengthAdjust="spacingAndGlyphs">DEC 1</text>
<rect x="0" y="678" width="1024" height="8" fill="#c8c8c8"/>
<rect x="0.5" y="678.5" width="7.5" height="7.5" fill="#d0d0d0" stroke="#8a8a8a" stroke-width="0.8"/>
<text x="4.2" y="684.6" font-family="Liberation Sans, Arial, sans-serif" font-size="5" fill="#555" text-anchor="middle">&#9664;</text>
<rect x="1015.5" y="678.5" width="8" height="7.5" fill="#d0d0d0" stroke="#8a8a8a" stroke-width="0.8"/>
<text x="1019.6" y="684.6" font-family="Liberation Sans, Arial, sans-serif" font-size="5" fill="#555" text-anchor="middle">&#9654;</text>
</svg>
</body></html>
